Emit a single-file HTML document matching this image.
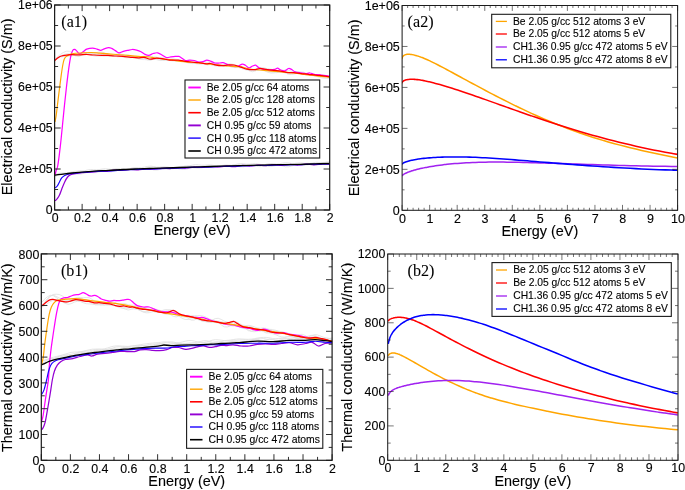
<!DOCTYPE html>
<html><head><meta charset="utf-8"><title>Conductivity plots</title>
<style>html,body{margin:0;padding:0;background:#fff;}body{width:685px;height:490px;overflow:hidden;font-family:"Liberation Sans",sans-serif;}svg{display:block;}text.sa{font-family:"Liberation Sans",sans-serif;stroke:#000;stroke-width:0.12px;}text.se{font-family:"Liberation Serif",serif;stroke:#000;stroke-width:0.08px;}</style>
</head><body>
<svg width="685" height="490" viewBox="0 0 685 490">
<defs>
<clipPath id="ca1"><rect x="54.6" y="5.0" width="275.09999999999997" height="205.0"/></clipPath>
<clipPath id="ca2"><rect x="402.1" y="5.5" width="275.5" height="204.8"/></clipPath>
<clipPath id="cb1"><rect x="41.3" y="253.9" width="290.8" height="206.4"/></clipPath>
<clipPath id="cb2"><rect x="387.7" y="254.0" width="290.3" height="206.3"/></clipPath>
<filter id="soft" x="-2%" y="-2%" width="104%" height="104%"><feGaussianBlur stdDeviation="0.3"/></filter>
</defs>
<rect x="0" y="0" width="685" height="490" fill="#ffffff"/>
<g filter="url(#soft)">
<polyline points="70.0,55.4 73.0,55.1 76.0,54.7 79.0,53.7 82.0,52.8 85.0,52.6 88.0,52.9 91.0,53.1 94.0,53.0 97.0,52.4 100.0,52.0 103.0,52.3 106.0,53.4 109.0,54.5 112.0,54.9 115.0,54.4 118.0,53.9 121.0,54.0 124.0,54.9 127.0,56.1 130.0,56.6 133.0,56.5 136.0,56.3 139.0,56.6 142.0,57.6 145.0,58.7 148.0,59.3 151.0,59.3 154.0,59.3 157.0,59.2 160.0,59.5 163.0,59.7 166.0,59.7 169.0,59.3 172.0,59.0 175.0,59.2 178.0,59.7 181.0,60.4 184.0,61.0 187.0,61.4 190.0,62.0 193.0,62.9 196.0,63.7 199.0,64.1 202.0,64.0 205.0,63.9 208.0,64.1 211.0,64.6 214.0,65.2 217.0,65.3 220.0,64.9 223.0,64.7 226.0,65.2 229.0,66.2 232.0,67.3 235.0,67.6 238.0,67.2 241.0,66.9 244.0,67.5 247.0,68.8 250.0,70.3 253.0,70.7 256.0,70.4 259.0,69.9 262.0,70.1 265.0,71.1 268.0,72.3 271.0,73.0 274.0,72.8 277.0,72.1 280.0,71.8 283.0,72.0 286.0,72.5 289.0,72.7 292.0,72.2 295.0,71.7 298.0,71.7 301.0,72.3 304.0,73.4 307.0,74.4 310.0,75.1 313.0,75.6 316.0,76.2 319.0,77.1 322.0,77.9 325.0,78.3 328.0,78.4 329.5,78.4" fill="none" stroke="#e0e0e0" stroke-width="0.85" stroke-linejoin="round" stroke-linecap="butt" opacity="1.0" clip-path="url(#ca1)"/>
<polyline points="54.5,59.7 57.5,56.8 60.5,54.3 63.5,52.4 66.5,51.2 69.5,51.3 72.5,52.9 75.5,55.1 78.5,56.1 81.5,55.2 84.5,53.8 87.5,53.1 90.5,53.6 93.5,54.5 96.5,55.2 99.5,55.7 102.5,56.1 105.5,56.1 108.5,55.7 111.5,55.6 114.5,56.1 117.5,56.8 120.5,56.7 123.5,55.7 126.5,54.8 129.5,55.2 132.5,56.7 135.5,58.1 138.5,58.3 141.5,57.0 144.5,56.0 147.5,56.4 150.5,57.2 153.5,56.9 156.5,57.1 159.5,58.4 162.5,59.4 165.5,60.0 168.5,60.0 171.5,59.8 174.5,60.0 177.5,60.4 180.5,60.6 183.5,60.6 186.5,61.0 189.5,62.2 192.5,63.3 195.5,63.3 198.5,62.5 201.5,62.0 204.5,62.1 207.5,62.3 210.5,62.1 213.5,63.1 216.5,64.3 219.5,65.0 222.5,65.3 225.5,64.5 228.5,63.8 231.5,64.0 234.5,64.7 237.5,65.7 240.5,66.1 243.5,67.1 246.5,69.1 249.5,70.8 252.5,71.7 255.5,70.7 258.5,68.7 261.5,67.7 264.5,68.0 267.5,68.9 270.5,69.8 273.5,70.8 276.5,71.5 279.5,71.4 282.5,70.5 285.5,69.9 288.5,70.4 291.5,71.4 294.5,72.3 297.5,72.5 300.5,72.1 303.5,72.1 306.5,73.3 309.5,74.8 312.5,75.6 315.5,75.5 318.5,75.0 321.5,74.8 324.5,75.0 327.5,75.8 329.5,76.7" fill="none" stroke="#e0e0e0" stroke-width="0.85" stroke-linejoin="round" stroke-linecap="butt" opacity="1.0" clip-path="url(#ca1)"/>
<polyline points="54.5,60.5 57.5,57.9 60.5,56.0 63.5,54.7 66.5,53.9 69.5,53.8 72.5,54.6 75.5,55.9 78.5,56.3 81.5,55.5 84.5,54.4 87.5,54.0 90.5,54.8 93.5,55.8 96.5,56.2 99.5,55.8 102.5,55.5 105.5,55.7 108.5,56.2 111.5,56.5 114.5,56.3 117.5,56.2 120.5,56.5 123.5,57.3 126.5,57.8 129.5,57.7 132.5,57.4 135.5,57.6 138.5,58.7 141.5,59.5 144.5,59.6 147.5,59.8 150.5,59.8 153.5,59.3 156.5,59.6 159.5,60.4 162.5,60.5 165.5,60.3 168.5,60.4 171.5,60.7 174.5,61.1 177.5,61.2 180.5,61.3 183.5,61.6 186.5,62.4 189.5,63.3 192.5,63.6 195.5,63.2 198.5,62.7 201.5,63.1 204.5,64.2 207.5,64.9 210.5,64.4 213.5,64.2 216.5,64.3 219.5,64.9 222.5,66.1 225.5,66.5 228.5,66.0 231.5,65.5 234.5,65.4 237.5,66.8 240.5,68.3 243.5,69.3 246.5,69.9 249.5,69.9 252.5,70.4 255.5,70.6 258.5,69.9 261.5,69.2 264.5,69.4 267.5,70.3 270.5,71.7 273.5,72.6 276.5,72.7 279.5,72.1 282.5,72.1 285.5,73.1 288.5,74.4 291.5,74.5 294.5,73.9 297.5,73.3 300.5,73.4 303.5,74.1 306.5,74.8 309.5,75.1 312.5,75.2 315.5,75.5 318.5,76.2 321.5,76.9 324.5,77.0 327.5,76.7 329.5,76.7" fill="none" stroke="#e0e0e0" stroke-width="0.85" stroke-linejoin="round" stroke-linecap="butt" opacity="1.0" clip-path="url(#ca1)"/>
<polyline points="54.5,60.6 57.5,58.3 60.5,57.0 63.5,56.6 66.5,56.4 69.5,56.2 72.5,55.7 75.5,55.3 78.5,54.9 81.5,54.4 84.5,53.9 87.5,53.8 90.5,54.0 93.5,54.2 96.5,54.4 99.5,54.6 102.5,54.7 105.5,54.9 108.5,55.0 111.5,55.4 114.5,55.8 117.5,56.1 120.5,56.3 123.5,56.4 126.5,56.7 129.5,57.1 132.5,57.5 135.5,58.0 138.5,58.6 141.5,58.7 144.5,58.8 147.5,59.7 150.5,60.2 153.5,59.2 156.5,58.2 159.5,57.8 162.5,57.8 165.5,58.4 168.5,59.2 171.5,59.8 174.5,60.2 177.5,60.4 180.5,60.7 183.5,60.9 186.5,60.8 189.5,60.8 192.5,60.9 195.5,61.2 198.5,61.7 201.5,62.8 204.5,63.8 207.5,64.5 210.5,64.6 213.5,65.5 216.5,66.1 219.5,66.1 222.5,66.0 225.5,65.4 228.5,65.0 231.5,65.0 234.5,65.3 237.5,66.4 240.5,67.4 243.5,68.4 246.5,69.4 249.5,69.5 252.5,69.5 255.5,69.1 258.5,68.3 261.5,68.0 264.5,68.3 267.5,68.7 270.5,69.1 273.5,69.7 276.5,70.4 279.5,71.1 282.5,71.9 285.5,72.7 288.5,73.3 291.5,73.1 294.5,73.0 297.5,73.1 300.5,73.3 303.5,73.6 306.5,74.1 309.5,74.7 312.5,75.4 315.5,76.0 318.5,76.3 321.5,76.4 324.5,76.4 327.5,76.3 329.5,76.3" fill="none" stroke="#e0e0e0" stroke-width="0.85" stroke-linejoin="round" stroke-linecap="butt" opacity="1.0" clip-path="url(#ca1)"/>
<polyline points="54.5,174.6 57.5,173.6 60.5,173.1 63.5,173.1 66.5,173.1 69.5,172.5 72.5,171.7 75.5,171.2 78.5,171.2 81.5,171.3 84.5,170.8 87.5,169.9 90.5,169.5 93.5,169.6 96.5,169.8 99.5,169.5 102.5,168.9 105.5,168.7 108.5,169.1 111.5,169.5 114.5,169.3 117.5,168.8 120.5,168.6 123.5,168.9 126.5,169.1 129.5,168.8 132.5,168.0 135.5,167.5 138.5,167.5 141.5,167.6 144.5,167.1 147.5,166.4 150.5,166.1 153.5,166.5 156.5,167.1 159.5,167.1 162.5,166.8 165.5,166.8 168.5,167.3 171.5,167.8 174.5,167.6 177.5,166.9 180.5,166.4 183.5,166.4 186.5,166.4 189.5,165.9 192.5,165.1 195.5,164.6 198.5,164.8 201.5,165.2 204.5,165.2 207.5,164.9 210.5,164.9 213.5,165.4 216.5,166.0 219.5,166.0 222.5,165.4 225.5,165.0 228.5,165.1 231.5,165.3 234.5,164.9 237.5,164.0 240.5,163.5 243.5,163.7 246.5,164.1 249.5,164.1 252.5,163.7 255.5,163.6 258.5,164.0 261.5,164.6 264.5,164.6 267.5,164.0 270.5,163.6 273.5,163.8 276.5,164.0 279.5,163.8 282.5,163.1 285.5,162.7 288.5,162.9 291.5,163.4 294.5,163.4 297.5,163.0 300.5,162.8 303.5,163.2 306.5,163.6 309.5,163.5 312.5,162.9 315.5,162.3 318.5,162.4 321.5,162.6 324.5,162.4 327.5,161.8 329.5,161.5" fill="none" stroke="#e0e0e0" stroke-width="0.85" stroke-linejoin="round" stroke-linecap="butt" opacity="1.0" clip-path="url(#ca1)"/>
<polyline points="54.5,177.0 57.5,175.4 60.5,174.5 63.5,174.6 66.5,174.9 69.5,174.8 72.5,174.3 75.5,174.1 78.5,174.2 81.5,173.9 84.5,173.1 87.5,172.4 90.5,172.4 93.5,172.7 96.5,172.6 99.5,171.8 102.5,171.1 105.5,171.3 108.5,171.8 111.5,171.8 114.5,170.8 117.5,169.8 120.5,169.5 123.5,169.8 126.5,170.0 129.5,169.8 132.5,169.7 135.5,169.9 138.5,169.9 141.5,169.4 144.5,168.5 147.5,168.2 150.5,168.9 153.5,169.9 156.5,170.1 159.5,169.5 162.5,168.9 165.5,168.9 168.5,169.1 171.5,169.0 174.5,168.6 177.5,168.6 180.5,169.2 183.5,169.5 186.5,169.1 189.5,168.2 192.5,167.8 195.5,168.1 198.5,168.3 201.5,167.9 204.5,167.3 207.5,167.1 210.5,167.6 213.5,167.8 216.5,167.3 219.5,166.5 222.5,166.2 225.5,166.4 228.5,166.5 231.5,166.1 234.5,165.8 237.5,166.1 240.5,166.8 243.5,166.8 246.5,166.0 249.5,165.2 252.5,165.2 255.5,166.0 258.5,166.6 261.5,166.6 264.5,166.3 267.5,166.4 270.5,166.5 273.5,166.1 276.5,165.4 279.5,165.2 282.5,165.9 285.5,166.8 288.5,166.8 291.5,166.0 294.5,165.1 297.5,165.1 300.5,165.5 303.5,165.5 306.5,165.0 309.5,164.6 312.5,164.8 315.5,165.0 318.5,164.7 321.5,164.1 324.5,163.9 327.5,164.2 329.5,164.3" fill="none" stroke="#e0e0e0" stroke-width="0.85" stroke-linejoin="round" stroke-linecap="butt" opacity="1.0" clip-path="url(#ca1)"/>
<polyline points="54.5,175.5 57.5,174.5 60.5,173.6 63.5,173.1 66.5,173.1 69.5,173.2 72.5,172.8 75.5,171.9 78.5,171.0 81.5,170.9 84.5,171.5 87.5,172.2 90.5,172.3 93.5,171.4 96.5,170.4 99.5,169.8 102.5,170.0 105.5,170.3 108.5,170.2 111.5,169.5 114.5,168.8 117.5,168.8 120.5,169.5 123.5,170.0 126.5,169.8 129.5,168.9 132.5,168.1 135.5,168.1 138.5,168.8 141.5,169.3 144.5,169.0 147.5,168.0 150.5,167.1 153.5,166.9 156.5,167.5 159.5,168.1 162.5,168.1 165.5,167.6 168.5,167.3 171.5,167.6 174.5,168.1 177.5,168.2 180.5,167.4 183.5,166.4 186.5,165.8 189.5,166.0 192.5,166.7 195.5,167.1 198.5,166.7 201.5,166.1 204.5,165.8 207.5,166.0 210.5,166.5 213.5,166.6 216.5,166.3 219.5,165.8 222.5,165.6 225.5,165.8 228.5,165.8 231.5,165.4 234.5,164.7 237.5,164.3 240.5,164.5 243.5,165.2 246.5,165.8 249.5,165.7 252.5,165.3 255.5,165.0 258.5,164.9 261.5,165.0 264.5,164.7 267.5,164.2 270.5,163.9 273.5,164.0 276.5,164.5 279.5,164.7 282.5,164.4 285.5,163.9 288.5,163.6 291.5,163.9 294.5,164.6 297.5,164.8 300.5,164.4 303.5,163.7 306.5,163.3 309.5,163.4 312.5,163.6 315.5,163.4 318.5,162.8 321.5,162.4 324.5,162.8 327.5,163.6 329.5,164.2" fill="none" stroke="#e0e0e0" stroke-width="0.85" stroke-linejoin="round" stroke-linecap="butt" opacity="1.0" clip-path="url(#ca1)"/>
<path d="M54.90,175.00 C55.12,174.25 55.73,172.00 56.20,170.50 C56.67,169.00 57.15,168.88 57.70,166.00 C58.25,163.12 58.95,157.53 59.50,153.20 C60.05,148.87 60.47,145.03 61.00,140.00 C61.53,134.97 62.10,129.00 62.70,123.00 C63.30,117.00 63.95,110.20 64.60,104.00 C65.25,97.80 65.90,91.77 66.60,85.80 C67.30,79.83 68.08,73.22 68.80,68.20 C69.52,63.18 70.23,58.68 70.90,55.70 C71.57,52.72 72.17,51.35 72.80,50.30 C73.43,49.25 74.10,49.35 74.70,49.40 C75.30,49.45 75.75,49.97 76.40,50.60 C77.05,51.23 77.87,52.72 78.60,53.20 C79.33,53.68 79.93,53.82 80.80,53.50 C81.67,53.18 82.82,52.03 83.80,51.30 C84.78,50.57 85.23,49.63 86.70,49.10 C88.17,48.57 90.88,48.10 92.60,48.10 C94.32,48.10 95.65,48.73 97.00,49.10 C98.35,49.47 99.48,50.35 100.70,50.30 C101.92,50.25 102.97,49.25 104.30,48.80 C105.63,48.35 107.47,47.67 108.70,47.60 C109.93,47.53 110.60,47.90 111.70,48.40 C112.80,48.90 114.08,49.87 115.30,50.60 C116.52,51.33 117.65,52.68 119.00,52.80 C120.35,52.92 121.93,51.72 123.40,51.30 C124.87,50.88 126.33,50.60 127.80,50.30 C129.27,50.00 130.73,49.53 132.20,49.50 C133.67,49.47 135.13,49.73 136.60,50.10 C138.07,50.47 139.70,51.05 141.00,51.70 C142.30,52.35 143.10,53.40 144.40,54.00 C145.70,54.60 147.33,55.38 148.80,55.30 C150.27,55.22 151.73,53.92 153.20,53.50 C154.67,53.08 156.13,52.55 157.60,52.80 C159.07,53.05 160.53,54.20 162.00,55.00 C163.47,55.80 164.93,57.28 166.40,57.60 C167.87,57.92 169.33,57.10 170.80,56.90 C172.27,56.70 173.85,56.48 175.20,56.40 C176.55,56.32 177.78,56.10 178.90,56.40 C180.02,56.70 180.80,57.52 181.90,58.20 C183.00,58.88 184.17,60.18 185.50,60.50 C186.83,60.82 188.43,60.10 189.90,60.10 C191.37,60.10 192.83,60.18 194.30,60.50 C195.77,60.82 197.23,61.82 198.70,62.00 C200.17,62.18 201.75,61.92 203.10,61.60 C204.45,61.28 205.57,60.18 206.80,60.10 C208.03,60.02 209.15,60.62 210.50,61.10 C211.85,61.58 213.43,62.68 214.90,63.00 C216.37,63.32 217.95,63.07 219.30,63.00 C220.65,62.93 221.78,62.42 223.00,62.60 C224.22,62.78 225.27,63.53 226.60,64.10 C227.93,64.67 229.53,65.60 231.00,66.00 C232.47,66.40 234.12,66.50 235.40,66.50 C236.68,66.50 237.55,66.40 238.70,66.00 C239.85,65.60 241.20,64.23 242.30,64.10 C243.40,63.97 244.18,64.57 245.30,65.20 C246.42,65.83 247.78,67.77 249.00,67.90 C250.22,68.03 251.50,66.45 252.60,66.00 C253.70,65.55 254.62,64.97 255.60,65.20 C256.58,65.43 257.28,66.70 258.50,67.40 C259.72,68.10 260.95,68.98 262.90,69.40 C264.85,69.82 268.25,69.90 270.20,69.90 C272.15,69.90 273.37,69.68 274.60,69.40 C275.83,69.12 276.62,68.12 277.60,68.20 C278.58,68.28 279.28,69.47 280.50,69.90 C281.72,70.33 283.55,71.03 284.90,70.80 C286.25,70.57 287.50,68.73 288.60,68.50 C289.70,68.27 290.40,68.83 291.50,69.40 C292.60,69.97 293.60,71.32 295.20,71.90 C296.80,72.48 299.38,72.62 301.10,72.90 C302.82,73.18 304.03,73.58 305.50,73.60 C306.97,73.62 308.43,72.88 309.90,73.00 C311.37,73.12 312.58,74.00 314.30,74.30 C316.02,74.60 317.67,74.47 320.20,74.80 C322.73,75.13 327.95,76.05 329.50,76.30" fill="none" stroke="#ff00ff" stroke-width="1.25" stroke-linejoin="round" opacity="1.0" clip-path="url(#ca1)"/>
<path d="M55.00,121.80 C55.20,120.72 55.73,118.57 56.20,115.30 C56.67,112.03 57.27,106.55 57.80,102.20 C58.33,97.85 58.85,93.55 59.40,89.20 C59.95,84.85 60.55,80.05 61.10,76.10 C61.65,72.15 62.17,68.35 62.70,65.50 C63.23,62.65 63.62,60.58 64.30,59.00 C64.98,57.42 65.88,56.75 66.80,56.00 C67.72,55.25 68.68,54.92 69.80,54.50 C70.92,54.08 71.42,53.77 73.50,53.50 C75.58,53.23 79.37,53.07 82.30,52.90 C85.23,52.73 88.17,52.45 91.10,52.50 C94.03,52.55 96.97,52.97 99.90,53.20 C102.83,53.43 104.78,53.60 108.70,53.90 C112.62,54.20 118.50,54.58 123.40,55.00 C128.30,55.42 133.67,56.07 138.10,56.40 C142.53,56.73 147.23,56.73 150.00,57.00 C152.77,57.27 151.47,57.55 154.70,58.00 C157.93,58.45 164.52,59.10 169.40,59.70 C174.28,60.30 179.12,61.05 184.00,61.60 C188.88,62.15 193.80,62.52 198.70,63.00 C203.60,63.48 208.50,64.00 213.40,64.50 C218.30,65.00 223.67,65.63 228.10,66.00 C232.53,66.37 236.40,66.20 240.00,66.70 C243.60,67.20 245.63,68.38 249.70,69.00 C253.77,69.62 259.52,69.95 264.40,70.40 C269.28,70.85 274.12,71.27 279.00,71.70 C283.88,72.13 288.80,72.45 293.70,73.00 C298.60,73.55 304.48,74.53 308.40,75.00 C312.32,75.47 313.68,75.42 317.20,75.80 C320.72,76.18 327.45,77.05 329.50,77.30" fill="none" stroke="#ffa500" stroke-width="1.2" stroke-linejoin="round" opacity="1.0" clip-path="url(#ca1)"/>
<path d="M54.50,200.80 C54.72,200.70 55.33,200.55 55.80,200.20 C56.27,199.85 56.68,199.55 57.30,198.70 C57.92,197.85 58.77,196.68 59.50,195.10 C60.23,193.52 60.83,191.40 61.70,189.20 C62.57,187.00 63.72,183.93 64.70,181.90 C65.68,179.87 66.62,178.18 67.60,177.00 C68.58,175.82 69.37,175.37 70.60,174.80 C71.83,174.23 73.10,173.97 75.00,173.60 C76.90,173.23 79.50,172.83 82.00,172.60 C84.50,172.37 87.33,172.42 90.00,172.20 C92.67,171.98 95.33,171.43 98.00,171.30 C100.67,171.17 103.33,171.58 106.00,171.40 C108.67,171.22 111.33,170.37 114.00,170.20 C116.67,170.03 119.33,170.52 122.00,170.40 C124.67,170.28 127.33,169.60 130.00,169.50 C132.67,169.40 135.33,169.90 138.00,169.80 C140.67,169.70 143.33,169.00 146.00,168.90 C148.67,168.80 151.33,169.30 154.00,169.20 C156.67,169.10 159.33,168.40 162.00,168.30 C164.67,168.20 167.33,168.72 170.00,168.60 C172.67,168.48 175.33,167.70 178.00,167.60 C180.67,167.50 183.33,168.07 186.00,168.00 C188.67,167.93 191.33,167.30 194.00,167.20 C196.67,167.10 199.33,167.50 202.00,167.40 C204.67,167.30 207.33,166.68 210.00,166.60 C212.67,166.52 215.33,166.97 218.00,166.90 C220.67,166.83 223.33,166.25 226.00,166.20 C228.67,166.15 231.33,166.72 234.00,166.60 C236.67,166.48 239.33,165.60 242.00,165.50 C244.67,165.40 247.33,166.05 250.00,166.00 C252.67,165.95 255.33,165.27 258.00,165.20 C260.67,165.13 263.33,165.67 266.00,165.60 C268.67,165.53 271.33,164.85 274.00,164.80 C276.67,164.75 279.33,165.35 282.00,165.30 C284.67,165.25 287.33,164.55 290.00,164.50 C292.67,164.45 295.33,165.05 298.00,165.00 C300.67,164.95 303.33,164.23 306.00,164.20 C308.67,164.17 311.33,164.83 314.00,164.80 C316.67,164.77 319.42,164.08 322.00,164.00 C324.58,163.92 328.25,164.25 329.50,164.30" fill="none" stroke="#9400d3" stroke-width="1.25" stroke-linejoin="round" opacity="1.0" clip-path="url(#ca1)"/>
<path d="M54.50,188.00 C54.72,187.90 55.33,187.73 55.80,187.40 C56.27,187.07 56.68,186.92 57.30,186.00 C57.92,185.08 58.77,183.25 59.50,181.90 C60.23,180.55 60.83,178.98 61.70,177.90 C62.57,176.82 63.47,176.05 64.70,175.40 C65.93,174.75 67.38,174.37 69.10,174.00 C70.82,173.63 72.35,173.48 75.00,173.20 C77.65,172.92 80.83,172.63 85.00,172.30 C89.17,171.97 95.00,171.48 100.00,171.20 C105.00,170.92 110.00,170.87 115.00,170.60 C120.00,170.33 125.00,169.82 130.00,169.60 C135.00,169.38 140.00,169.47 145.00,169.30 C150.00,169.13 155.00,168.78 160.00,168.60 C165.00,168.42 170.00,168.40 175.00,168.20 C180.00,168.00 185.00,167.57 190.00,167.40 C195.00,167.23 200.00,167.35 205.00,167.20 C210.00,167.05 215.00,166.65 220.00,166.50 C225.00,166.35 230.00,166.45 235.00,166.30 C240.00,166.15 245.00,165.73 250.00,165.60 C255.00,165.47 260.00,165.60 265.00,165.50 C270.00,165.40 275.00,165.12 280.00,165.00 C285.00,164.88 290.00,164.92 295.00,164.80 C300.00,164.68 304.25,164.43 310.00,164.30 C315.75,164.17 326.25,164.05 329.50,164.00" fill="none" stroke="#1a00ff" stroke-width="1.15" stroke-linejoin="round" opacity="1.0" clip-path="url(#ca1)"/>
<path d="M54.50,60.80 C54.83,60.50 55.78,59.60 56.50,59.00 C57.22,58.40 57.97,57.70 58.80,57.20 C59.63,56.70 60.52,56.32 61.50,56.00 C62.48,55.68 62.95,55.52 64.70,55.30 C66.45,55.08 69.62,54.77 72.00,54.70 C74.38,54.63 76.55,54.93 79.00,54.90 C81.45,54.87 84.20,54.48 86.70,54.50 C89.20,54.52 91.55,54.87 94.00,55.00 C96.45,55.13 99.07,55.23 101.40,55.30 C103.73,55.37 105.55,55.28 108.00,55.40 C110.45,55.52 113.60,55.83 116.10,56.00 C118.60,56.17 120.55,56.18 123.00,56.40 C125.45,56.62 128.28,57.05 130.80,57.30 C133.32,57.55 135.90,57.90 138.10,57.90 C140.30,57.90 141.97,57.08 144.00,57.30 C146.03,57.52 148.27,59.05 150.30,59.20 C152.33,59.35 154.25,58.30 156.20,58.20 C158.15,58.10 159.80,58.28 162.00,58.60 C164.20,58.92 166.70,59.85 169.40,60.10 C172.10,60.35 175.77,59.93 178.20,60.10 C180.63,60.27 181.80,60.78 184.00,61.10 C186.20,61.42 188.95,61.75 191.40,62.00 C193.85,62.25 196.25,62.30 198.70,62.60 C201.15,62.90 204.13,63.65 206.10,63.80 C208.07,63.95 208.78,63.27 210.50,63.50 C212.22,63.73 214.45,64.83 216.40,65.20 C218.35,65.57 220.25,65.73 222.20,65.70 C224.15,65.67 226.13,65.12 228.10,65.00 C230.07,64.88 231.87,64.63 234.00,65.00 C236.13,65.37 238.78,66.50 240.90,67.20 C243.02,67.90 244.50,68.78 246.70,69.20 C248.90,69.62 251.88,69.82 254.10,69.70 C256.32,69.58 257.80,68.52 260.00,68.50 C262.20,68.48 264.87,69.28 267.30,69.60 C269.73,69.92 272.15,70.10 274.60,70.40 C277.05,70.70 279.78,71.03 282.00,71.40 C284.22,71.77 285.95,72.40 287.90,72.60 C289.85,72.80 291.50,72.43 293.70,72.60 C295.90,72.77 298.65,73.32 301.10,73.60 C303.55,73.88 305.95,74.03 308.40,74.30 C310.85,74.57 313.35,74.95 315.80,75.20 C318.25,75.45 320.82,75.55 323.10,75.80 C325.38,76.05 328.43,76.55 329.50,76.70" fill="none" stroke="#ff0000" stroke-width="1.25" stroke-linejoin="round" opacity="1.0" clip-path="url(#ca1)"/>
<path d="M54.50,175.30 C55.08,175.20 56.30,174.95 58.00,174.70 C59.70,174.45 62.37,174.08 64.70,173.80 C67.03,173.52 69.55,173.25 72.00,173.00 C74.45,172.75 75.72,172.62 79.40,172.30 C83.08,171.98 89.22,171.42 94.10,171.10 C98.98,170.78 103.82,170.67 108.70,170.40 C113.58,170.13 118.50,169.75 123.40,169.50 C128.30,169.25 133.67,169.07 138.10,168.90 C142.53,168.73 146.35,168.62 150.00,168.50 C153.65,168.38 155.00,168.37 160.00,168.20 C165.00,168.03 173.33,167.73 180.00,167.50 C186.67,167.27 193.33,167.02 200.00,166.80 C206.67,166.58 213.33,166.40 220.00,166.20 C226.67,166.00 233.33,165.77 240.00,165.60 C246.67,165.43 253.33,165.35 260.00,165.20 C266.67,165.05 273.33,164.85 280.00,164.70 C286.67,164.55 294.17,164.43 300.00,164.30 C305.83,164.17 310.08,164.03 315.00,163.90 C319.92,163.77 327.08,163.57 329.50,163.50" fill="none" stroke="#000000" stroke-width="1.3" stroke-linejoin="round" opacity="1.0" clip-path="url(#ca1)"/>
<line x1="54.60" y1="210.00" x2="54.60" y2="203.90" stroke="#1a1a1a" stroke-width="0.9"/>
<line x1="54.60" y1="5.00" x2="54.60" y2="11.10" stroke="#1a1a1a" stroke-width="0.9"/>
<line x1="82.11" y1="210.00" x2="82.11" y2="203.90" stroke="#1a1a1a" stroke-width="0.9"/>
<line x1="82.11" y1="5.00" x2="82.11" y2="11.10" stroke="#1a1a1a" stroke-width="0.9"/>
<line x1="109.62" y1="210.00" x2="109.62" y2="203.90" stroke="#1a1a1a" stroke-width="0.9"/>
<line x1="109.62" y1="5.00" x2="109.62" y2="11.10" stroke="#1a1a1a" stroke-width="0.9"/>
<line x1="137.13" y1="210.00" x2="137.13" y2="203.90" stroke="#1a1a1a" stroke-width="0.9"/>
<line x1="137.13" y1="5.00" x2="137.13" y2="11.10" stroke="#1a1a1a" stroke-width="0.9"/>
<line x1="164.64" y1="210.00" x2="164.64" y2="203.90" stroke="#1a1a1a" stroke-width="0.9"/>
<line x1="164.64" y1="5.00" x2="164.64" y2="11.10" stroke="#1a1a1a" stroke-width="0.9"/>
<line x1="192.15" y1="210.00" x2="192.15" y2="203.90" stroke="#1a1a1a" stroke-width="0.9"/>
<line x1="192.15" y1="5.00" x2="192.15" y2="11.10" stroke="#1a1a1a" stroke-width="0.9"/>
<line x1="219.66" y1="210.00" x2="219.66" y2="203.90" stroke="#1a1a1a" stroke-width="0.9"/>
<line x1="219.66" y1="5.00" x2="219.66" y2="11.10" stroke="#1a1a1a" stroke-width="0.9"/>
<line x1="247.17" y1="210.00" x2="247.17" y2="203.90" stroke="#1a1a1a" stroke-width="0.9"/>
<line x1="247.17" y1="5.00" x2="247.17" y2="11.10" stroke="#1a1a1a" stroke-width="0.9"/>
<line x1="274.68" y1="210.00" x2="274.68" y2="203.90" stroke="#1a1a1a" stroke-width="0.9"/>
<line x1="274.68" y1="5.00" x2="274.68" y2="11.10" stroke="#1a1a1a" stroke-width="0.9"/>
<line x1="302.19" y1="210.00" x2="302.19" y2="203.90" stroke="#1a1a1a" stroke-width="0.9"/>
<line x1="302.19" y1="5.00" x2="302.19" y2="11.10" stroke="#1a1a1a" stroke-width="0.9"/>
<line x1="329.70" y1="210.00" x2="329.70" y2="203.90" stroke="#1a1a1a" stroke-width="0.9"/>
<line x1="329.70" y1="5.00" x2="329.70" y2="11.10" stroke="#1a1a1a" stroke-width="0.9"/>
<line x1="68.36" y1="210.00" x2="68.36" y2="206.50" stroke="#1a1a1a" stroke-width="0.9"/>
<line x1="68.36" y1="5.00" x2="68.36" y2="8.50" stroke="#1a1a1a" stroke-width="0.9"/>
<line x1="95.87" y1="210.00" x2="95.87" y2="206.50" stroke="#1a1a1a" stroke-width="0.9"/>
<line x1="95.87" y1="5.00" x2="95.87" y2="8.50" stroke="#1a1a1a" stroke-width="0.9"/>
<line x1="123.38" y1="210.00" x2="123.38" y2="206.50" stroke="#1a1a1a" stroke-width="0.9"/>
<line x1="123.38" y1="5.00" x2="123.38" y2="8.50" stroke="#1a1a1a" stroke-width="0.9"/>
<line x1="150.88" y1="210.00" x2="150.88" y2="206.50" stroke="#1a1a1a" stroke-width="0.9"/>
<line x1="150.88" y1="5.00" x2="150.88" y2="8.50" stroke="#1a1a1a" stroke-width="0.9"/>
<line x1="178.39" y1="210.00" x2="178.39" y2="206.50" stroke="#1a1a1a" stroke-width="0.9"/>
<line x1="178.39" y1="5.00" x2="178.39" y2="8.50" stroke="#1a1a1a" stroke-width="0.9"/>
<line x1="205.91" y1="210.00" x2="205.91" y2="206.50" stroke="#1a1a1a" stroke-width="0.9"/>
<line x1="205.91" y1="5.00" x2="205.91" y2="8.50" stroke="#1a1a1a" stroke-width="0.9"/>
<line x1="233.42" y1="210.00" x2="233.42" y2="206.50" stroke="#1a1a1a" stroke-width="0.9"/>
<line x1="233.42" y1="5.00" x2="233.42" y2="8.50" stroke="#1a1a1a" stroke-width="0.9"/>
<line x1="260.93" y1="210.00" x2="260.93" y2="206.50" stroke="#1a1a1a" stroke-width="0.9"/>
<line x1="260.93" y1="5.00" x2="260.93" y2="8.50" stroke="#1a1a1a" stroke-width="0.9"/>
<line x1="288.44" y1="210.00" x2="288.44" y2="206.50" stroke="#1a1a1a" stroke-width="0.9"/>
<line x1="288.44" y1="5.00" x2="288.44" y2="8.50" stroke="#1a1a1a" stroke-width="0.9"/>
<line x1="315.94" y1="210.00" x2="315.94" y2="206.50" stroke="#1a1a1a" stroke-width="0.9"/>
<line x1="315.94" y1="5.00" x2="315.94" y2="8.50" stroke="#1a1a1a" stroke-width="0.9"/>
<line x1="54.60" y1="210.00" x2="60.70" y2="210.00" stroke="#1a1a1a" stroke-width="0.9"/>
<line x1="329.70" y1="210.00" x2="323.60" y2="210.00" stroke="#1a1a1a" stroke-width="0.9"/>
<line x1="54.60" y1="169.00" x2="60.70" y2="169.00" stroke="#1a1a1a" stroke-width="0.9"/>
<line x1="329.70" y1="169.00" x2="323.60" y2="169.00" stroke="#1a1a1a" stroke-width="0.9"/>
<line x1="54.60" y1="128.00" x2="60.70" y2="128.00" stroke="#1a1a1a" stroke-width="0.9"/>
<line x1="329.70" y1="128.00" x2="323.60" y2="128.00" stroke="#1a1a1a" stroke-width="0.9"/>
<line x1="54.60" y1="87.00" x2="60.70" y2="87.00" stroke="#1a1a1a" stroke-width="0.9"/>
<line x1="329.70" y1="87.00" x2="323.60" y2="87.00" stroke="#1a1a1a" stroke-width="0.9"/>
<line x1="54.60" y1="46.00" x2="60.70" y2="46.00" stroke="#1a1a1a" stroke-width="0.9"/>
<line x1="329.70" y1="46.00" x2="323.60" y2="46.00" stroke="#1a1a1a" stroke-width="0.9"/>
<line x1="54.60" y1="5.00" x2="60.70" y2="5.00" stroke="#1a1a1a" stroke-width="0.9"/>
<line x1="329.70" y1="5.00" x2="323.60" y2="5.00" stroke="#1a1a1a" stroke-width="0.9"/>
<line x1="54.60" y1="189.50" x2="58.10" y2="189.50" stroke="#1a1a1a" stroke-width="0.9"/>
<line x1="329.70" y1="189.50" x2="326.20" y2="189.50" stroke="#1a1a1a" stroke-width="0.9"/>
<line x1="54.60" y1="148.50" x2="58.10" y2="148.50" stroke="#1a1a1a" stroke-width="0.9"/>
<line x1="329.70" y1="148.50" x2="326.20" y2="148.50" stroke="#1a1a1a" stroke-width="0.9"/>
<line x1="54.60" y1="107.50" x2="58.10" y2="107.50" stroke="#1a1a1a" stroke-width="0.9"/>
<line x1="329.70" y1="107.50" x2="326.20" y2="107.50" stroke="#1a1a1a" stroke-width="0.9"/>
<line x1="54.60" y1="66.50" x2="58.10" y2="66.50" stroke="#1a1a1a" stroke-width="0.9"/>
<line x1="329.70" y1="66.50" x2="326.20" y2="66.50" stroke="#1a1a1a" stroke-width="0.9"/>
<line x1="54.60" y1="25.50" x2="58.10" y2="25.50" stroke="#1a1a1a" stroke-width="0.9"/>
<line x1="329.70" y1="25.50" x2="326.20" y2="25.50" stroke="#1a1a1a" stroke-width="0.9"/>
<rect x="54.6" y="5.0" width="275.09999999999997" height="205.0" fill="none" stroke="#1a1a1a" stroke-width="1.2"/>
<text class="sa" transform="translate(55.10,222.40)" font-size="12.3" text-anchor="middle" fill="#000">0</text>
<text class="sa" transform="translate(82.61,222.40)" font-size="12.3" text-anchor="middle" fill="#000">0.2</text>
<text class="sa" transform="translate(110.12,222.40)" font-size="12.3" text-anchor="middle" fill="#000">0.4</text>
<text class="sa" transform="translate(137.63,222.40)" font-size="12.3" text-anchor="middle" fill="#000">0.6</text>
<text class="sa" transform="translate(165.14,222.40)" font-size="12.3" text-anchor="middle" fill="#000">0.8</text>
<text class="sa" transform="translate(192.65,222.40)" font-size="12.3" text-anchor="middle" fill="#000">1</text>
<text class="sa" transform="translate(220.16,222.40)" font-size="12.3" text-anchor="middle" fill="#000">1.2</text>
<text class="sa" transform="translate(247.67,222.40)" font-size="12.3" text-anchor="middle" fill="#000">1.4</text>
<text class="sa" transform="translate(275.18,222.40)" font-size="12.3" text-anchor="middle" fill="#000">1.6</text>
<text class="sa" transform="translate(302.69,222.40)" font-size="12.3" text-anchor="middle" fill="#000">1.8</text>
<text class="sa" transform="translate(330.20,222.40)" font-size="12.3" text-anchor="middle" fill="#000">2</text>
<text class="sa" transform="translate(52.60,214.13)" font-size="12.3" text-anchor="end" fill="#000">0</text>
<text class="sa" transform="translate(52.60,173.13)" font-size="12.3" text-anchor="end" fill="#000">2e+05</text>
<text class="sa" transform="translate(52.60,132.13)" font-size="12.3" text-anchor="end" fill="#000">4e+05</text>
<text class="sa" transform="translate(52.60,91.13)" font-size="12.3" text-anchor="end" fill="#000">6e+05</text>
<text class="sa" transform="translate(52.60,50.13)" font-size="12.3" text-anchor="end" fill="#000">8e+05</text>
<text class="sa" transform="translate(52.60,9.13)" font-size="12.3" text-anchor="end" fill="#000">1e+06</text>
<text class="sa" transform="translate(192.15,234.80)" font-size="14.4" text-anchor="middle" fill="#000">Energy (eV)</text>
<text class="sa" transform="translate(11.60,106.90) rotate(-90)" font-size="14.4" text-anchor="middle" fill="#000">Electrical conductivity (S/m)</text>
<text class="se" transform="translate(61.30,26.70)" font-size="16.0" text-anchor="start" fill="#000">(a1)</text>
<rect x="185.0" y="80.0" width="134.7" height="78.0" fill="#ffffff" stroke="#1a1a1a" stroke-width="1.1"/>
<line x1="188.30" y1="87.50" x2="200.80" y2="87.50" stroke="#ff00ff" stroke-width="1.9"/>
<text class="sa" transform="translate(206.70,90.90)" font-size="10.3" text-anchor="start" fill="#000">Be 2.05 g/cc 64 atoms</text>
<line x1="188.30" y1="100.00" x2="200.80" y2="100.00" stroke="#ffa500" stroke-width="1.4"/>
<text class="sa" transform="translate(206.70,103.40)" font-size="10.3" text-anchor="start" fill="#000">Be 2.05 g/cc 128 atoms</text>
<line x1="188.30" y1="112.70" x2="200.80" y2="112.70" stroke="#ff0000" stroke-width="1.6"/>
<text class="sa" transform="translate(206.70,116.10)" font-size="10.3" text-anchor="start" fill="#000">Be 2.05 g/cc 512 atoms</text>
<line x1="188.30" y1="125.40" x2="200.80" y2="125.40" stroke="#9400d3" stroke-width="1.9"/>
<text class="sa" transform="translate(206.70,128.80)" font-size="10.3" text-anchor="start" fill="#000">CH 0.95 g/cc 59 atoms</text>
<line x1="188.30" y1="138.10" x2="200.80" y2="138.10" stroke="#1a00ff" stroke-width="1.4"/>
<text class="sa" transform="translate(206.70,141.50)" font-size="10.3" text-anchor="start" fill="#000">CH 0.95 g/cc 118 atoms</text>
<line x1="188.30" y1="151.00" x2="200.80" y2="151.00" stroke="#000000" stroke-width="1.6"/>
<text class="sa" transform="translate(206.70,154.40)" font-size="10.3" text-anchor="start" fill="#000">CH 0.95 g/cc 472 atoms</text>
<path d="M402.00,59.27 C402.01,59.16 402.01,58.81 402.03,58.59 C402.06,58.38 402.09,58.17 402.14,57.97 C402.19,57.76 402.24,57.57 402.31,57.38 C402.38,57.20 402.46,57.02 402.56,56.85 C402.65,56.67 402.75,56.51 402.87,56.36 C402.99,56.20 403.11,56.05 403.25,55.92 C403.39,55.78 403.54,55.65 403.70,55.53 C403.87,55.40 404.04,55.29 404.23,55.19 C404.41,55.08 404.61,54.99 404.82,54.90 C405.03,54.81 405.25,54.73 405.48,54.66 C405.71,54.60 405.95,54.53 406.21,54.48 C406.46,54.43 406.73,54.39 407.01,54.36 C407.29,54.33 407.58,54.30 407.88,54.29 C408.18,54.28 408.49,54.27 408.82,54.28 C409.14,54.28 409.48,54.30 409.83,54.32 C410.17,54.35 410.53,54.39 410.90,54.43 C411.27,54.48 411.66,54.53 412.05,54.60 C412.45,54.66 412.85,54.74 413.27,54.83 C413.69,54.91 414.12,55.01 414.56,55.12 C415.00,55.23 415.45,55.34 415.91,55.47 C416.38,55.60 416.85,55.74 417.34,55.89 C417.83,56.04 418.32,56.21 418.83,56.38 C419.34,56.55 419.87,56.74 420.40,56.93 C420.93,57.13 421.48,57.33 422.03,57.55 C422.59,57.77 423.16,58.00 423.74,58.24 C424.32,58.48 424.91,58.73 425.51,58.99 C426.11,59.25 426.73,59.53 427.36,59.81 C427.98,60.09 428.62,60.39 429.27,60.69 C429.92,60.99 430.58,61.31 431.25,61.63 C431.92,61.95 432.61,62.29 433.30,62.63 C434.00,62.97 434.71,63.32 435.42,63.68 C436.14,64.04 436.87,64.41 437.62,64.79 C438.36,65.17 439.11,65.56 439.88,65.96 C440.64,66.36 441.42,66.76 442.21,67.17 C443.00,67.59 443.80,68.01 444.61,68.44 C445.42,68.87 446.24,69.31 447.08,69.76 C447.91,70.20 448.76,70.66 449.62,71.12 C450.47,71.58 451.34,72.05 452.22,72.53 C453.10,73.00 454.00,73.49 454.90,73.98 C455.81,74.47 456.72,74.96 457.65,75.47 C458.58,75.97 459.52,76.48 460.47,77.00 C461.42,77.52 462.38,78.04 463.35,78.57 C464.33,79.10 465.31,79.64 466.31,80.18 C467.31,80.72 468.32,81.27 469.34,81.82 C470.36,82.37 471.39,82.93 472.43,83.49 C473.47,84.06 474.53,84.63 475.60,85.20 C476.66,85.77 477.74,86.35 478.83,86.94 C479.92,87.52 481.02,88.11 482.14,88.70 C483.25,89.29 484.37,89.89 485.51,90.49 C486.65,91.09 487.79,91.70 488.95,92.31 C490.11,92.91 491.28,93.53 492.47,94.14 C493.65,94.76 494.84,95.38 496.05,96.00 C497.25,96.63 498.47,97.25 499.70,97.88 C500.93,98.51 502.17,99.14 503.42,99.78 C504.67,100.41 505.94,101.05 507.21,101.69 C508.49,102.33 509.77,102.97 511.07,103.62 C512.37,104.26 513.68,104.90 515.00,105.55 C516.33,106.20 517.66,106.84 519.00,107.49 C520.35,108.14 521.70,108.79 523.07,109.44 C524.44,110.09 525.82,110.74 527.21,111.38 C528.60,112.03 530.01,112.68 531.42,113.33 C532.83,113.98 534.26,114.62 535.70,115.27 C537.14,115.92 538.58,116.56 540.05,117.20 C541.51,117.85 542.98,118.49 544.46,119.13 C545.95,119.77 547.44,120.40 548.95,121.04 C550.46,121.67 551.98,122.31 553.51,122.93 C555.04,123.56 556.58,124.19 558.13,124.81 C559.69,125.43 561.25,126.05 562.83,126.66 C564.40,127.28 565.99,127.89 567.59,128.50 C569.19,129.10 570.80,129.70 572.43,130.30 C574.05,130.90 575.68,131.49 577.33,132.07 C578.98,132.66 580.64,133.24 582.30,133.81 C583.97,134.39 585.66,134.96 587.35,135.52 C589.04,136.08 590.74,136.64 592.46,137.19 C594.18,137.73 595.90,138.28 597.64,138.81 C599.38,139.35 601.13,139.87 602.89,140.39 C604.66,140.91 606.43,141.42 608.22,141.93 C610.00,142.44 611.80,142.93 613.61,143.43 C615.42,143.92 617.24,144.40 619.07,144.89 C620.90,145.37 622.74,145.84 624.60,146.31 C626.45,146.78 628.32,147.24 630.20,147.70 C632.08,148.16 633.97,148.61 635.87,149.06 C637.77,149.51 639.68,149.96 641.61,150.40 C643.53,150.84 645.47,151.28 647.41,151.72 C649.36,152.15 651.32,152.58 653.29,153.01 C655.26,153.44 657.25,153.86 659.24,154.29 C661.23,154.71 663.24,155.13 665.26,155.55 C667.27,155.97 669.30,156.39 671.34,156.80 C673.38,157.22 676.47,157.84 677.50,158.04" fill="none" stroke="#ffa500" stroke-width="1.5" stroke-linejoin="round" opacity="1.0" clip-path="url(#ca2)"/>
<path d="M402.00,83.29 C402.01,83.22 402.01,83.01 402.03,82.87 C402.06,82.74 402.09,82.61 402.14,82.48 C402.19,82.35 402.24,82.22 402.31,82.09 C402.38,81.97 402.46,81.85 402.56,81.73 C402.65,81.61 402.75,81.50 402.87,81.39 C402.99,81.28 403.11,81.17 403.25,81.07 C403.39,80.96 403.54,80.86 403.70,80.77 C403.87,80.67 404.04,80.58 404.23,80.49 C404.41,80.40 404.61,80.32 404.82,80.24 C405.03,80.16 405.25,80.09 405.48,80.02 C405.71,79.95 405.95,79.88 406.21,79.82 C406.46,79.76 406.73,79.70 407.01,79.65 C407.29,79.60 407.58,79.55 407.88,79.51 C408.18,79.47 408.49,79.44 408.82,79.41 C409.14,79.38 409.48,79.35 409.83,79.33 C410.17,79.31 410.53,79.30 410.90,79.29 C411.27,79.28 411.66,79.28 412.05,79.28 C412.45,79.29 412.85,79.30 413.27,79.31 C413.69,79.33 414.12,79.35 414.56,79.38 C415.00,79.41 415.45,79.44 415.91,79.49 C416.38,79.53 416.85,79.58 417.34,79.63 C417.83,79.69 418.32,79.75 418.83,79.82 C419.34,79.89 419.87,79.96 420.40,80.05 C420.93,80.13 421.48,80.22 422.03,80.32 C422.59,80.42 423.16,80.52 423.74,80.63 C424.32,80.75 424.91,80.86 425.51,80.99 C426.11,81.12 426.73,81.25 427.36,81.39 C427.98,81.53 428.62,81.67 429.27,81.83 C429.92,81.98 430.58,82.14 431.25,82.31 C431.92,82.47 432.61,82.65 433.30,82.83 C434.00,83.01 434.71,83.19 435.42,83.38 C436.14,83.58 436.87,83.78 437.62,83.98 C438.36,84.19 439.11,84.40 439.88,84.62 C440.64,84.84 441.42,85.06 442.21,85.29 C443.00,85.53 443.80,85.76 444.61,86.01 C445.42,86.25 446.24,86.50 447.08,86.76 C447.91,87.01 448.76,87.27 449.62,87.54 C450.47,87.81 451.34,88.08 452.22,88.36 C453.10,88.64 454.00,88.93 454.90,89.22 C455.81,89.51 456.72,89.81 457.65,90.11 C458.58,90.42 459.52,90.73 460.47,91.04 C461.42,91.36 462.38,91.68 463.35,92.00 C464.33,92.33 465.31,92.66 466.31,93.00 C467.31,93.34 468.32,93.68 469.34,94.03 C470.36,94.37 471.39,94.73 472.43,95.09 C473.47,95.45 474.53,95.81 475.60,96.18 C476.66,96.55 477.74,96.92 478.83,97.30 C479.92,97.68 481.02,98.07 482.14,98.46 C483.25,98.85 484.37,99.24 485.51,99.64 C486.65,100.04 487.79,100.45 488.95,100.86 C490.11,101.27 491.28,101.69 492.47,102.11 C493.65,102.53 494.84,102.95 496.05,103.38 C497.25,103.81 498.47,104.24 499.70,104.68 C500.93,105.12 502.17,105.56 503.42,106.01 C504.67,106.46 505.94,106.91 507.21,107.36 C508.49,107.82 509.77,108.27 511.07,108.74 C512.37,109.20 513.68,109.66 515.00,110.13 C516.33,110.60 517.66,111.07 519.00,111.54 C520.35,112.02 521.70,112.49 523.07,112.97 C524.44,113.45 525.82,113.93 527.21,114.42 C528.60,114.90 530.01,115.39 531.42,115.87 C532.83,116.36 534.26,116.85 535.70,117.34 C537.14,117.83 538.58,118.33 540.05,118.82 C541.51,119.31 542.98,119.81 544.46,120.30 C545.95,120.80 547.44,121.30 548.95,121.79 C550.46,122.29 551.98,122.79 553.51,123.29 C555.04,123.79 556.58,124.28 558.13,124.78 C559.69,125.28 561.25,125.78 562.83,126.28 C564.40,126.78 565.99,127.27 567.59,127.77 C569.19,128.27 570.80,128.77 572.43,129.26 C574.05,129.76 575.68,130.25 577.33,130.75 C578.98,131.24 580.64,131.73 582.30,132.22 C583.97,132.71 585.66,133.20 587.35,133.69 C589.04,134.18 590.74,134.66 592.46,135.15 C594.18,135.63 595.90,136.11 597.64,136.59 C599.38,137.07 601.13,137.54 602.89,138.02 C604.66,138.49 606.43,138.96 608.22,139.43 C610.00,139.89 611.80,140.36 613.61,140.82 C615.42,141.28 617.24,141.74 619.07,142.19 C620.90,142.65 622.74,143.10 624.60,143.54 C626.45,143.99 628.32,144.43 630.20,144.87 C632.08,145.30 633.97,145.74 635.87,146.17 C637.77,146.60 639.68,147.02 641.61,147.44 C643.53,147.86 645.47,148.27 647.41,148.68 C649.36,149.09 651.32,149.49 653.29,149.89 C655.26,150.29 657.25,150.68 659.24,151.07 C661.23,151.45 663.24,151.83 665.26,152.21 C667.27,152.58 669.30,152.95 671.34,153.31 C673.38,153.67 676.47,154.20 677.50,154.38" fill="none" stroke="#ff0000" stroke-width="1.55" stroke-linejoin="round" opacity="1.0" clip-path="url(#ca2)"/>
<path d="M402.00,176.25 C402.01,176.21 402.01,176.09 402.03,176.01 C402.06,175.92 402.09,175.84 402.14,175.75 C402.19,175.66 402.24,175.57 402.31,175.48 C402.38,175.39 402.46,175.29 402.56,175.20 C402.65,175.10 402.75,175.00 402.87,174.90 C402.99,174.80 403.11,174.70 403.25,174.60 C403.39,174.50 403.54,174.39 403.70,174.29 C403.87,174.18 404.04,174.08 404.23,173.97 C404.41,173.86 404.61,173.75 404.82,173.64 C405.03,173.53 405.25,173.41 405.48,173.30 C405.71,173.19 405.95,173.07 406.21,172.96 C406.46,172.84 406.73,172.73 407.01,172.61 C407.29,172.49 407.58,172.37 407.88,172.25 C408.18,172.14 408.49,172.02 408.82,171.90 C409.14,171.78 409.48,171.65 409.83,171.53 C410.17,171.41 410.53,171.29 410.90,171.17 C411.27,171.05 411.66,170.92 412.05,170.80 C412.45,170.68 412.85,170.55 413.27,170.43 C413.69,170.31 414.12,170.18 414.56,170.06 C415.00,169.94 415.45,169.81 415.91,169.69 C416.38,169.57 416.85,169.44 417.34,169.32 C417.83,169.20 418.32,169.08 418.83,168.95 C419.34,168.83 419.87,168.71 420.40,168.59 C420.93,168.47 421.48,168.34 422.03,168.22 C422.59,168.10 423.16,167.98 423.74,167.86 C424.32,167.74 424.91,167.63 425.51,167.51 C426.11,167.39 426.73,167.27 427.36,167.16 C427.98,167.04 428.62,166.93 429.27,166.81 C429.92,166.70 430.58,166.59 431.25,166.47 C431.92,166.36 432.61,166.25 433.30,166.14 C434.00,166.03 434.71,165.92 435.42,165.82 C436.14,165.71 436.87,165.61 437.62,165.50 C438.36,165.40 439.11,165.30 439.88,165.20 C440.64,165.10 441.42,165.00 442.21,164.90 C443.00,164.80 443.80,164.71 444.61,164.62 C445.42,164.52 446.24,164.43 447.08,164.34 C447.91,164.25 448.76,164.17 449.62,164.08 C450.47,164.00 451.34,163.91 452.22,163.83 C453.10,163.75 454.00,163.67 454.90,163.60 C455.81,163.52 456.72,163.45 457.65,163.38 C458.58,163.31 459.52,163.24 460.47,163.17 C461.42,163.10 462.38,163.04 463.35,162.98 C464.33,162.92 465.31,162.86 466.31,162.81 C467.31,162.75 468.32,162.70 469.34,162.65 C470.36,162.60 471.39,162.56 472.43,162.51 C473.47,162.47 474.53,162.43 475.60,162.39 C476.66,162.36 477.74,162.32 478.83,162.29 C479.92,162.26 481.02,162.24 482.14,162.21 C483.25,162.19 484.37,162.17 485.51,162.15 C486.65,162.13 487.79,162.12 488.95,162.11 C490.11,162.10 491.28,162.09 492.47,162.08 C493.65,162.08 494.84,162.08 496.05,162.08 C497.25,162.08 498.47,162.08 499.70,162.08 C500.93,162.09 502.17,162.10 503.42,162.11 C504.67,162.12 505.94,162.13 507.21,162.14 C508.49,162.16 509.77,162.18 511.07,162.20 C512.37,162.22 513.68,162.24 515.00,162.26 C516.33,162.28 517.66,162.31 519.00,162.34 C520.35,162.36 521.70,162.39 523.07,162.43 C524.44,162.46 525.82,162.49 527.21,162.52 C528.60,162.56 530.01,162.60 531.42,162.63 C532.83,162.67 534.26,162.71 535.70,162.75 C537.14,162.79 538.58,162.83 540.05,162.88 C541.51,162.92 542.98,162.96 544.46,163.01 C545.95,163.06 547.44,163.10 548.95,163.15 C550.46,163.20 551.98,163.25 553.51,163.30 C555.04,163.35 556.58,163.40 558.13,163.45 C559.69,163.50 561.25,163.55 562.83,163.60 C564.40,163.66 565.99,163.71 567.59,163.76 C569.19,163.82 570.80,163.87 572.43,163.92 C574.05,163.98 575.68,164.03 577.33,164.09 C578.98,164.14 580.64,164.20 582.30,164.25 C583.97,164.31 585.66,164.36 587.35,164.42 C589.04,164.47 590.74,164.53 592.46,164.58 C594.18,164.64 595.90,164.69 597.64,164.75 C599.38,164.80 601.13,164.86 602.89,164.91 C604.66,164.96 606.43,165.02 608.22,165.07 C610.00,165.12 611.80,165.17 613.61,165.22 C615.42,165.27 617.24,165.33 619.07,165.38 C620.90,165.42 622.74,165.47 624.60,165.52 C626.45,165.57 628.32,165.62 630.20,165.66 C632.08,165.71 633.97,165.75 635.87,165.80 C637.77,165.84 639.68,165.88 641.61,165.92 C643.53,165.96 645.47,166.00 647.41,166.04 C649.36,166.08 651.32,166.11 653.29,166.15 C655.26,166.18 657.25,166.22 659.24,166.25 C661.23,166.28 663.24,166.31 665.26,166.34 C667.27,166.36 669.30,166.39 671.34,166.41 C673.38,166.44 676.47,166.47 677.50,166.48" fill="none" stroke="#a020f0" stroke-width="1.5" stroke-linejoin="round" opacity="1.0" clip-path="url(#ca2)"/>
<path d="M402.00,164.67 C402.01,164.62 402.01,164.49 402.03,164.40 C402.06,164.32 402.09,164.23 402.14,164.14 C402.19,164.05 402.24,163.96 402.31,163.87 C402.38,163.78 402.46,163.69 402.56,163.60 C402.65,163.51 402.75,163.42 402.87,163.33 C402.99,163.24 403.11,163.15 403.25,163.06 C403.39,162.97 403.54,162.88 403.70,162.78 C403.87,162.69 404.04,162.60 404.23,162.51 C404.41,162.42 404.61,162.33 404.82,162.24 C405.03,162.15 405.25,162.06 405.48,161.97 C405.71,161.88 405.95,161.79 406.21,161.70 C406.46,161.61 406.73,161.52 407.01,161.43 C407.29,161.34 407.58,161.25 407.88,161.16 C408.18,161.08 408.49,160.99 408.82,160.90 C409.14,160.82 409.48,160.73 409.83,160.64 C410.17,160.56 410.53,160.47 410.90,160.39 C411.27,160.31 411.66,160.22 412.05,160.14 C412.45,160.06 412.85,159.98 413.27,159.90 C413.69,159.82 414.12,159.74 414.56,159.66 C415.00,159.58 415.45,159.50 415.91,159.43 C416.38,159.35 416.85,159.27 417.34,159.20 C417.83,159.13 418.32,159.05 418.83,158.98 C419.34,158.91 419.87,158.84 420.40,158.77 C420.93,158.70 421.48,158.64 422.03,158.57 C422.59,158.51 423.16,158.44 423.74,158.38 C424.32,158.32 424.91,158.26 425.51,158.20 C426.11,158.14 426.73,158.08 427.36,158.02 C427.98,157.97 428.62,157.91 429.27,157.86 C429.92,157.81 430.58,157.76 431.25,157.71 C431.92,157.66 432.61,157.61 433.30,157.57 C434.00,157.53 434.71,157.48 435.42,157.44 C436.14,157.40 436.87,157.36 437.62,157.33 C438.36,157.29 439.11,157.26 439.88,157.23 C440.64,157.20 441.42,157.17 442.21,157.14 C443.00,157.11 443.80,157.09 444.61,157.07 C445.42,157.04 446.24,157.02 447.08,157.01 C447.91,156.99 448.76,156.97 449.62,156.96 C450.47,156.95 451.34,156.94 452.22,156.94 C453.10,156.93 454.00,156.93 454.90,156.92 C455.81,156.92 456.72,156.93 457.65,156.93 C458.58,156.93 459.52,156.94 460.47,156.95 C461.42,156.96 462.38,156.98 463.35,156.99 C464.33,157.01 465.31,157.03 466.31,157.05 C467.31,157.08 468.32,157.10 469.34,157.13 C470.36,157.16 471.39,157.19 472.43,157.23 C473.47,157.27 474.53,157.31 475.60,157.35 C476.66,157.39 477.74,157.44 478.83,157.49 C479.92,157.54 481.02,157.59 482.14,157.65 C483.25,157.70 484.37,157.76 485.51,157.83 C486.65,157.89 487.79,157.96 488.95,158.03 C490.11,158.09 491.28,158.17 492.47,158.24 C493.65,158.32 494.84,158.40 496.05,158.48 C497.25,158.56 498.47,158.64 499.70,158.73 C500.93,158.81 502.17,158.90 503.42,158.99 C504.67,159.08 505.94,159.18 507.21,159.27 C508.49,159.37 509.77,159.47 511.07,159.57 C512.37,159.66 513.68,159.77 515.00,159.87 C516.33,159.97 517.66,160.08 519.00,160.19 C520.35,160.29 521.70,160.40 523.07,160.51 C524.44,160.62 525.82,160.74 527.21,160.85 C528.60,160.96 530.01,161.08 531.42,161.19 C532.83,161.31 534.26,161.43 535.70,161.55 C537.14,161.66 538.58,161.78 540.05,161.90 C541.51,162.02 542.98,162.15 544.46,162.27 C545.95,162.39 547.44,162.51 548.95,162.64 C550.46,162.76 551.98,162.88 553.51,163.01 C555.04,163.13 556.58,163.26 558.13,163.38 C559.69,163.51 561.25,163.63 562.83,163.76 C564.40,163.88 565.99,164.01 567.59,164.13 C569.19,164.26 570.80,164.38 572.43,164.51 C574.05,164.63 575.68,164.76 577.33,164.88 C578.98,165.01 580.64,165.13 582.30,165.25 C583.97,165.38 585.66,165.50 587.35,165.62 C589.04,165.74 590.74,165.87 592.46,165.99 C594.18,166.11 595.90,166.23 597.64,166.35 C599.38,166.46 601.13,166.58 602.89,166.70 C604.66,166.81 606.43,166.93 608.22,167.04 C610.00,167.16 611.80,167.27 613.61,167.38 C615.42,167.49 617.24,167.60 619.07,167.71 C620.90,167.81 622.74,167.92 624.60,168.02 C626.45,168.13 628.32,168.23 630.20,168.33 C632.08,168.43 633.97,168.53 635.87,168.62 C637.77,168.72 639.68,168.81 641.61,168.90 C643.53,168.99 645.47,169.08 647.41,169.17 C649.36,169.26 651.32,169.34 653.29,169.42 C655.26,169.50 657.25,169.58 659.24,169.66 C661.23,169.73 663.24,169.80 665.26,169.87 C667.27,169.94 669.30,170.01 671.34,170.07 C673.38,170.14 676.47,170.22 677.50,170.25" fill="none" stroke="#0000ff" stroke-width="1.55" stroke-linejoin="round" opacity="1.0" clip-path="url(#ca2)"/>
<line x1="402.10" y1="210.30" x2="402.10" y2="204.90" stroke="#1a1a1a" stroke-width="0.6"/>
<line x1="402.10" y1="5.50" x2="402.10" y2="10.90" stroke="#1a1a1a" stroke-width="0.6"/>
<line x1="429.65" y1="210.30" x2="429.65" y2="204.90" stroke="#1a1a1a" stroke-width="0.6"/>
<line x1="429.65" y1="5.50" x2="429.65" y2="10.90" stroke="#1a1a1a" stroke-width="0.6"/>
<line x1="457.20" y1="210.30" x2="457.20" y2="204.90" stroke="#1a1a1a" stroke-width="0.6"/>
<line x1="457.20" y1="5.50" x2="457.20" y2="10.90" stroke="#1a1a1a" stroke-width="0.6"/>
<line x1="484.75" y1="210.30" x2="484.75" y2="204.90" stroke="#1a1a1a" stroke-width="0.6"/>
<line x1="484.75" y1="5.50" x2="484.75" y2="10.90" stroke="#1a1a1a" stroke-width="0.6"/>
<line x1="512.30" y1="210.30" x2="512.30" y2="204.90" stroke="#1a1a1a" stroke-width="0.6"/>
<line x1="512.30" y1="5.50" x2="512.30" y2="10.90" stroke="#1a1a1a" stroke-width="0.6"/>
<line x1="539.85" y1="210.30" x2="539.85" y2="204.90" stroke="#1a1a1a" stroke-width="0.6"/>
<line x1="539.85" y1="5.50" x2="539.85" y2="10.90" stroke="#1a1a1a" stroke-width="0.6"/>
<line x1="567.40" y1="210.30" x2="567.40" y2="204.90" stroke="#1a1a1a" stroke-width="0.6"/>
<line x1="567.40" y1="5.50" x2="567.40" y2="10.90" stroke="#1a1a1a" stroke-width="0.6"/>
<line x1="594.95" y1="210.30" x2="594.95" y2="204.90" stroke="#1a1a1a" stroke-width="0.6"/>
<line x1="594.95" y1="5.50" x2="594.95" y2="10.90" stroke="#1a1a1a" stroke-width="0.6"/>
<line x1="622.50" y1="210.30" x2="622.50" y2="204.90" stroke="#1a1a1a" stroke-width="0.6"/>
<line x1="622.50" y1="5.50" x2="622.50" y2="10.90" stroke="#1a1a1a" stroke-width="0.6"/>
<line x1="650.05" y1="210.30" x2="650.05" y2="204.90" stroke="#1a1a1a" stroke-width="0.6"/>
<line x1="650.05" y1="5.50" x2="650.05" y2="10.90" stroke="#1a1a1a" stroke-width="0.6"/>
<line x1="677.60" y1="210.30" x2="677.60" y2="204.90" stroke="#1a1a1a" stroke-width="0.6"/>
<line x1="677.60" y1="5.50" x2="677.60" y2="10.90" stroke="#1a1a1a" stroke-width="0.6"/>
<line x1="407.61" y1="210.30" x2="407.61" y2="207.80" stroke="#1a1a1a" stroke-width="0.6"/>
<line x1="407.61" y1="5.50" x2="407.61" y2="8.00" stroke="#1a1a1a" stroke-width="0.6"/>
<line x1="413.12" y1="210.30" x2="413.12" y2="207.80" stroke="#1a1a1a" stroke-width="0.6"/>
<line x1="413.12" y1="5.50" x2="413.12" y2="8.00" stroke="#1a1a1a" stroke-width="0.6"/>
<line x1="418.63" y1="210.30" x2="418.63" y2="207.80" stroke="#1a1a1a" stroke-width="0.6"/>
<line x1="418.63" y1="5.50" x2="418.63" y2="8.00" stroke="#1a1a1a" stroke-width="0.6"/>
<line x1="424.14" y1="210.30" x2="424.14" y2="207.80" stroke="#1a1a1a" stroke-width="0.6"/>
<line x1="424.14" y1="5.50" x2="424.14" y2="8.00" stroke="#1a1a1a" stroke-width="0.6"/>
<line x1="435.16" y1="210.30" x2="435.16" y2="207.80" stroke="#1a1a1a" stroke-width="0.6"/>
<line x1="435.16" y1="5.50" x2="435.16" y2="8.00" stroke="#1a1a1a" stroke-width="0.6"/>
<line x1="440.67" y1="210.30" x2="440.67" y2="207.80" stroke="#1a1a1a" stroke-width="0.6"/>
<line x1="440.67" y1="5.50" x2="440.67" y2="8.00" stroke="#1a1a1a" stroke-width="0.6"/>
<line x1="446.18" y1="210.30" x2="446.18" y2="207.80" stroke="#1a1a1a" stroke-width="0.6"/>
<line x1="446.18" y1="5.50" x2="446.18" y2="8.00" stroke="#1a1a1a" stroke-width="0.6"/>
<line x1="451.69" y1="210.30" x2="451.69" y2="207.80" stroke="#1a1a1a" stroke-width="0.6"/>
<line x1="451.69" y1="5.50" x2="451.69" y2="8.00" stroke="#1a1a1a" stroke-width="0.6"/>
<line x1="462.71" y1="210.30" x2="462.71" y2="207.80" stroke="#1a1a1a" stroke-width="0.6"/>
<line x1="462.71" y1="5.50" x2="462.71" y2="8.00" stroke="#1a1a1a" stroke-width="0.6"/>
<line x1="468.22" y1="210.30" x2="468.22" y2="207.80" stroke="#1a1a1a" stroke-width="0.6"/>
<line x1="468.22" y1="5.50" x2="468.22" y2="8.00" stroke="#1a1a1a" stroke-width="0.6"/>
<line x1="473.73" y1="210.30" x2="473.73" y2="207.80" stroke="#1a1a1a" stroke-width="0.6"/>
<line x1="473.73" y1="5.50" x2="473.73" y2="8.00" stroke="#1a1a1a" stroke-width="0.6"/>
<line x1="479.24" y1="210.30" x2="479.24" y2="207.80" stroke="#1a1a1a" stroke-width="0.6"/>
<line x1="479.24" y1="5.50" x2="479.24" y2="8.00" stroke="#1a1a1a" stroke-width="0.6"/>
<line x1="490.26" y1="210.30" x2="490.26" y2="207.80" stroke="#1a1a1a" stroke-width="0.6"/>
<line x1="490.26" y1="5.50" x2="490.26" y2="8.00" stroke="#1a1a1a" stroke-width="0.6"/>
<line x1="495.77" y1="210.30" x2="495.77" y2="207.80" stroke="#1a1a1a" stroke-width="0.6"/>
<line x1="495.77" y1="5.50" x2="495.77" y2="8.00" stroke="#1a1a1a" stroke-width="0.6"/>
<line x1="501.28" y1="210.30" x2="501.28" y2="207.80" stroke="#1a1a1a" stroke-width="0.6"/>
<line x1="501.28" y1="5.50" x2="501.28" y2="8.00" stroke="#1a1a1a" stroke-width="0.6"/>
<line x1="506.79" y1="210.30" x2="506.79" y2="207.80" stroke="#1a1a1a" stroke-width="0.6"/>
<line x1="506.79" y1="5.50" x2="506.79" y2="8.00" stroke="#1a1a1a" stroke-width="0.6"/>
<line x1="517.81" y1="210.30" x2="517.81" y2="207.80" stroke="#1a1a1a" stroke-width="0.6"/>
<line x1="517.81" y1="5.50" x2="517.81" y2="8.00" stroke="#1a1a1a" stroke-width="0.6"/>
<line x1="523.32" y1="210.30" x2="523.32" y2="207.80" stroke="#1a1a1a" stroke-width="0.6"/>
<line x1="523.32" y1="5.50" x2="523.32" y2="8.00" stroke="#1a1a1a" stroke-width="0.6"/>
<line x1="528.83" y1="210.30" x2="528.83" y2="207.80" stroke="#1a1a1a" stroke-width="0.6"/>
<line x1="528.83" y1="5.50" x2="528.83" y2="8.00" stroke="#1a1a1a" stroke-width="0.6"/>
<line x1="534.34" y1="210.30" x2="534.34" y2="207.80" stroke="#1a1a1a" stroke-width="0.6"/>
<line x1="534.34" y1="5.50" x2="534.34" y2="8.00" stroke="#1a1a1a" stroke-width="0.6"/>
<line x1="545.36" y1="210.30" x2="545.36" y2="207.80" stroke="#1a1a1a" stroke-width="0.6"/>
<line x1="545.36" y1="5.50" x2="545.36" y2="8.00" stroke="#1a1a1a" stroke-width="0.6"/>
<line x1="550.87" y1="210.30" x2="550.87" y2="207.80" stroke="#1a1a1a" stroke-width="0.6"/>
<line x1="550.87" y1="5.50" x2="550.87" y2="8.00" stroke="#1a1a1a" stroke-width="0.6"/>
<line x1="556.38" y1="210.30" x2="556.38" y2="207.80" stroke="#1a1a1a" stroke-width="0.6"/>
<line x1="556.38" y1="5.50" x2="556.38" y2="8.00" stroke="#1a1a1a" stroke-width="0.6"/>
<line x1="561.89" y1="210.30" x2="561.89" y2="207.80" stroke="#1a1a1a" stroke-width="0.6"/>
<line x1="561.89" y1="5.50" x2="561.89" y2="8.00" stroke="#1a1a1a" stroke-width="0.6"/>
<line x1="572.91" y1="210.30" x2="572.91" y2="207.80" stroke="#1a1a1a" stroke-width="0.6"/>
<line x1="572.91" y1="5.50" x2="572.91" y2="8.00" stroke="#1a1a1a" stroke-width="0.6"/>
<line x1="578.42" y1="210.30" x2="578.42" y2="207.80" stroke="#1a1a1a" stroke-width="0.6"/>
<line x1="578.42" y1="5.50" x2="578.42" y2="8.00" stroke="#1a1a1a" stroke-width="0.6"/>
<line x1="583.93" y1="210.30" x2="583.93" y2="207.80" stroke="#1a1a1a" stroke-width="0.6"/>
<line x1="583.93" y1="5.50" x2="583.93" y2="8.00" stroke="#1a1a1a" stroke-width="0.6"/>
<line x1="589.44" y1="210.30" x2="589.44" y2="207.80" stroke="#1a1a1a" stroke-width="0.6"/>
<line x1="589.44" y1="5.50" x2="589.44" y2="8.00" stroke="#1a1a1a" stroke-width="0.6"/>
<line x1="600.46" y1="210.30" x2="600.46" y2="207.80" stroke="#1a1a1a" stroke-width="0.6"/>
<line x1="600.46" y1="5.50" x2="600.46" y2="8.00" stroke="#1a1a1a" stroke-width="0.6"/>
<line x1="605.97" y1="210.30" x2="605.97" y2="207.80" stroke="#1a1a1a" stroke-width="0.6"/>
<line x1="605.97" y1="5.50" x2="605.97" y2="8.00" stroke="#1a1a1a" stroke-width="0.6"/>
<line x1="611.48" y1="210.30" x2="611.48" y2="207.80" stroke="#1a1a1a" stroke-width="0.6"/>
<line x1="611.48" y1="5.50" x2="611.48" y2="8.00" stroke="#1a1a1a" stroke-width="0.6"/>
<line x1="616.99" y1="210.30" x2="616.99" y2="207.80" stroke="#1a1a1a" stroke-width="0.6"/>
<line x1="616.99" y1="5.50" x2="616.99" y2="8.00" stroke="#1a1a1a" stroke-width="0.6"/>
<line x1="628.01" y1="210.30" x2="628.01" y2="207.80" stroke="#1a1a1a" stroke-width="0.6"/>
<line x1="628.01" y1="5.50" x2="628.01" y2="8.00" stroke="#1a1a1a" stroke-width="0.6"/>
<line x1="633.52" y1="210.30" x2="633.52" y2="207.80" stroke="#1a1a1a" stroke-width="0.6"/>
<line x1="633.52" y1="5.50" x2="633.52" y2="8.00" stroke="#1a1a1a" stroke-width="0.6"/>
<line x1="639.03" y1="210.30" x2="639.03" y2="207.80" stroke="#1a1a1a" stroke-width="0.6"/>
<line x1="639.03" y1="5.50" x2="639.03" y2="8.00" stroke="#1a1a1a" stroke-width="0.6"/>
<line x1="644.54" y1="210.30" x2="644.54" y2="207.80" stroke="#1a1a1a" stroke-width="0.6"/>
<line x1="644.54" y1="5.50" x2="644.54" y2="8.00" stroke="#1a1a1a" stroke-width="0.6"/>
<line x1="655.56" y1="210.30" x2="655.56" y2="207.80" stroke="#1a1a1a" stroke-width="0.6"/>
<line x1="655.56" y1="5.50" x2="655.56" y2="8.00" stroke="#1a1a1a" stroke-width="0.6"/>
<line x1="661.07" y1="210.30" x2="661.07" y2="207.80" stroke="#1a1a1a" stroke-width="0.6"/>
<line x1="661.07" y1="5.50" x2="661.07" y2="8.00" stroke="#1a1a1a" stroke-width="0.6"/>
<line x1="666.58" y1="210.30" x2="666.58" y2="207.80" stroke="#1a1a1a" stroke-width="0.6"/>
<line x1="666.58" y1="5.50" x2="666.58" y2="8.00" stroke="#1a1a1a" stroke-width="0.6"/>
<line x1="672.09" y1="210.30" x2="672.09" y2="207.80" stroke="#1a1a1a" stroke-width="0.6"/>
<line x1="672.09" y1="5.50" x2="672.09" y2="8.00" stroke="#1a1a1a" stroke-width="0.6"/>
<line x1="402.10" y1="210.30" x2="407.50" y2="210.30" stroke="#1a1a1a" stroke-width="0.6"/>
<line x1="677.60" y1="210.30" x2="672.20" y2="210.30" stroke="#1a1a1a" stroke-width="0.6"/>
<line x1="402.10" y1="169.34" x2="407.50" y2="169.34" stroke="#1a1a1a" stroke-width="0.6"/>
<line x1="677.60" y1="169.34" x2="672.20" y2="169.34" stroke="#1a1a1a" stroke-width="0.6"/>
<line x1="402.10" y1="128.38" x2="407.50" y2="128.38" stroke="#1a1a1a" stroke-width="0.6"/>
<line x1="677.60" y1="128.38" x2="672.20" y2="128.38" stroke="#1a1a1a" stroke-width="0.6"/>
<line x1="402.10" y1="87.42" x2="407.50" y2="87.42" stroke="#1a1a1a" stroke-width="0.6"/>
<line x1="677.60" y1="87.42" x2="672.20" y2="87.42" stroke="#1a1a1a" stroke-width="0.6"/>
<line x1="402.10" y1="46.46" x2="407.50" y2="46.46" stroke="#1a1a1a" stroke-width="0.6"/>
<line x1="677.60" y1="46.46" x2="672.20" y2="46.46" stroke="#1a1a1a" stroke-width="0.6"/>
<line x1="402.10" y1="5.50" x2="407.50" y2="5.50" stroke="#1a1a1a" stroke-width="0.6"/>
<line x1="677.60" y1="5.50" x2="672.20" y2="5.50" stroke="#1a1a1a" stroke-width="0.6"/>
<line x1="402.10" y1="189.82" x2="404.60" y2="189.82" stroke="#1a1a1a" stroke-width="0.6"/>
<line x1="677.60" y1="189.82" x2="675.10" y2="189.82" stroke="#1a1a1a" stroke-width="0.6"/>
<line x1="402.10" y1="148.86" x2="404.60" y2="148.86" stroke="#1a1a1a" stroke-width="0.6"/>
<line x1="677.60" y1="148.86" x2="675.10" y2="148.86" stroke="#1a1a1a" stroke-width="0.6"/>
<line x1="402.10" y1="107.90" x2="404.60" y2="107.90" stroke="#1a1a1a" stroke-width="0.6"/>
<line x1="677.60" y1="107.90" x2="675.10" y2="107.90" stroke="#1a1a1a" stroke-width="0.6"/>
<line x1="402.10" y1="66.94" x2="404.60" y2="66.94" stroke="#1a1a1a" stroke-width="0.6"/>
<line x1="677.60" y1="66.94" x2="675.10" y2="66.94" stroke="#1a1a1a" stroke-width="0.6"/>
<line x1="402.10" y1="25.98" x2="404.60" y2="25.98" stroke="#1a1a1a" stroke-width="0.6"/>
<line x1="677.60" y1="25.98" x2="675.10" y2="25.98" stroke="#1a1a1a" stroke-width="0.6"/>
<rect x="402.1" y="5.5" width="275.5" height="204.8" fill="none" stroke="#1a1a1a" stroke-width="1.0"/>
<text class="sa" transform="translate(402.40,222.50)" font-size="12.5" text-anchor="middle" fill="#000">0</text>
<text class="sa" transform="translate(429.95,222.50)" font-size="12.5" text-anchor="middle" fill="#000">1</text>
<text class="sa" transform="translate(457.50,222.50)" font-size="12.5" text-anchor="middle" fill="#000">2</text>
<text class="sa" transform="translate(485.05,222.50)" font-size="12.5" text-anchor="middle" fill="#000">3</text>
<text class="sa" transform="translate(512.60,222.50)" font-size="12.5" text-anchor="middle" fill="#000">4</text>
<text class="sa" transform="translate(540.15,222.50)" font-size="12.5" text-anchor="middle" fill="#000">5</text>
<text class="sa" transform="translate(567.70,222.50)" font-size="12.5" text-anchor="middle" fill="#000">6</text>
<text class="sa" transform="translate(595.25,222.50)" font-size="12.5" text-anchor="middle" fill="#000">7</text>
<text class="sa" transform="translate(622.80,222.50)" font-size="12.5" text-anchor="middle" fill="#000">8</text>
<text class="sa" transform="translate(650.35,222.50)" font-size="12.5" text-anchor="middle" fill="#000">9</text>
<text class="sa" transform="translate(677.90,222.50)" font-size="12.5" text-anchor="middle" fill="#000">10</text>
<text class="sa" transform="translate(399.80,214.50)" font-size="12.5" text-anchor="end" fill="#000">0</text>
<text class="sa" transform="translate(399.80,173.54)" font-size="12.5" text-anchor="end" fill="#000">2e+05</text>
<text class="sa" transform="translate(399.80,132.58)" font-size="12.5" text-anchor="end" fill="#000">4e+05</text>
<text class="sa" transform="translate(399.80,91.62)" font-size="12.5" text-anchor="end" fill="#000">6e+05</text>
<text class="sa" transform="translate(399.80,50.66)" font-size="12.5" text-anchor="end" fill="#000">8e+05</text>
<text class="sa" transform="translate(399.80,9.70)" font-size="12.5" text-anchor="end" fill="#000">1e+06</text>
<text class="sa" transform="translate(539.85,236.40)" font-size="14.4" text-anchor="middle" fill="#000">Energy (eV)</text>
<text class="sa" transform="translate(358.50,107.90) rotate(-90)" font-size="14.4" text-anchor="middle" fill="#000">Electrical conductivity (S/m)</text>
<text class="se" transform="translate(407.60,26.80) scale(0.95,1)" font-size="17.0" text-anchor="start" fill="#000">(a2)</text>
<rect x="491.7" y="14.3" width="179.09999999999997" height="53.5" fill="#ffffff" stroke="#1a1a1a" stroke-width="1.1"/>
<line x1="495.80" y1="21.40" x2="506.90" y2="21.40" stroke="#ffa500" stroke-width="1.3"/>
<text class="sa" transform="translate(513.00,24.80)" font-size="10.3" text-anchor="start" fill="#000">Be 2.05 g/cc 512 atoms 3 eV</text>
<line x1="495.80" y1="34.00" x2="506.90" y2="34.00" stroke="#ff0000" stroke-width="1.3"/>
<text class="sa" transform="translate(513.00,37.40)" font-size="10.3" text-anchor="start" fill="#000">Be 2.05 g/cc 512 atoms 5 eV</text>
<line x1="495.80" y1="47.00" x2="506.90" y2="47.00" stroke="#a020f0" stroke-width="1.3"/>
<text class="sa" transform="translate(513.00,50.40)" font-size="10.3" text-anchor="start" fill="#000">CH1.36 0.95 g/cc 472 atoms 5 eV</text>
<line x1="495.80" y1="59.80" x2="506.90" y2="59.80" stroke="#0000ff" stroke-width="1.3"/>
<text class="sa" transform="translate(513.00,63.20)" font-size="10.3" text-anchor="start" fill="#000">CH1.36 0.95 g/cc 472 atoms 8 eV</text>
<polyline points="41.2,307.0 44.2,303.4 47.2,299.6 50.2,296.3 53.2,294.5 56.2,294.2 59.2,294.5 62.2,295.8 65.2,298.2 68.2,300.4 71.2,301.4 74.2,300.7 77.2,299.5 80.2,298.8 83.2,299.3 86.2,300.2 89.2,301.1 92.2,302.5 95.2,303.8 98.2,304.3 101.2,305.0 104.2,305.0 107.2,303.7 110.2,302.1 113.2,301.8 116.2,303.0 119.2,305.2 122.2,306.8 125.2,307.5 128.2,307.7 131.2,306.8 134.2,306.4 137.2,306.7 140.2,307.1 143.2,307.4 146.2,307.9 149.2,309.3 152.2,311.0 155.2,312.2 158.2,312.2 161.2,310.9 164.2,309.8 167.2,309.5 170.2,309.9 173.2,310.8 176.2,313.2 179.2,315.7 182.2,316.7 185.2,317.2 188.2,317.2 191.2,316.8 194.2,316.4 197.2,316.5 200.2,317.7 203.2,319.8 206.2,321.1 209.2,321.2 212.2,320.1 215.2,318.6 218.2,318.3 221.2,319.4 224.2,321.1 227.2,322.1 230.2,322.5 233.2,322.7 236.2,324.6 239.2,326.6 242.2,327.7 245.2,327.0 248.2,326.4 251.2,326.8 254.2,328.5 257.2,330.5 260.2,331.2 263.2,330.5 266.2,329.7 269.2,329.3 272.2,329.5 275.2,330.2 278.2,331.0 281.2,331.6 284.2,332.8 287.2,334.5 290.2,336.0 293.2,336.2 296.2,335.5 299.2,334.5 302.2,334.3 305.2,335.5 308.2,337.5 311.2,338.6 314.2,338.4 317.2,338.1 320.2,338.1 323.2,338.5 326.2,339.3 329.2,340.0 332.2,340.8 332.8,341.0" fill="none" stroke="#e0e0e0" stroke-width="0.85" stroke-linejoin="round" stroke-linecap="butt" opacity="1.0" clip-path="url(#cb1)"/>
<polyline points="41.2,306.4 44.2,302.7 47.2,298.9 50.2,296.1 53.2,295.2 56.2,296.4 59.2,298.0 62.2,299.4 65.2,300.5 68.2,300.8 71.2,300.4 74.2,299.9 77.2,299.9 80.2,300.2 83.2,301.0 86.2,301.4 89.2,302.0 92.2,303.5 95.2,304.8 98.2,304.9 101.2,304.8 104.2,304.2 107.2,303.3 110.2,303.1 113.2,304.2 116.2,306.0 119.2,307.6 122.2,308.2 125.2,308.2 128.2,308.1 131.2,307.3 134.2,307.5 137.2,308.8 140.2,310.4 143.2,311.6 146.2,311.6 149.2,311.0 152.2,310.1 155.2,309.7 158.2,310.5 161.2,311.9 164.2,313.7 167.2,314.5 170.2,314.0 173.2,312.8 176.2,313.2 179.2,314.6 182.2,315.5 185.2,316.3 188.2,316.9 191.2,317.3 194.2,317.8 197.2,318.5 200.2,319.6 203.2,320.9 206.2,321.8 209.2,322.4 212.2,322.5 215.2,322.5 218.2,322.9 221.2,323.6 224.2,324.3 227.2,324.2 230.2,323.4 233.2,322.1 236.2,322.4 239.2,323.7 242.2,325.8 245.2,327.8 248.2,329.8 251.2,331.3 254.2,331.8 257.2,331.2 260.2,329.9 263.2,329.0 266.2,329.6 269.2,331.2 272.2,332.8 275.2,333.8 278.2,334.1 281.2,333.6 284.2,333.5 287.2,334.2 290.2,335.5 293.2,336.9 296.2,338.1 299.2,338.7 302.2,338.6 305.2,338.2 308.2,338.0 311.2,337.6 314.2,337.4 317.2,338.0 320.2,338.9 323.2,339.8 326.2,340.8 329.2,342.0 332.2,343.2 332.8,343.4" fill="none" stroke="#e0e0e0" stroke-width="0.85" stroke-linejoin="round" stroke-linecap="butt" opacity="1.0" clip-path="url(#cb1)"/>
<polyline points="41.2,303.0 44.2,299.6 47.2,296.9 50.2,295.3 53.2,295.5 56.2,297.5 59.2,299.8 62.2,301.7 65.2,302.7 68.2,302.1 71.2,300.2 74.2,298.3 77.2,297.5 80.2,297.5 83.2,297.7 86.2,297.5 89.2,297.7 92.2,299.4 95.2,301.5 98.2,302.6 101.2,303.3 104.2,303.8 107.2,304.3 110.2,305.0 113.2,305.7 116.2,305.5 119.2,304.7 122.2,303.6 125.2,303.7 128.2,304.7 131.2,305.1 134.2,305.3 137.2,306.2 140.2,307.4 143.2,308.7 146.2,309.3 149.2,309.2 152.2,308.8 155.2,309.0 158.2,309.9 161.2,310.8 164.2,311.3 167.2,310.9 170.2,310.3 173.2,310.3 176.2,312.4 179.2,314.8 182.2,315.5 185.2,315.5 188.2,315.4 191.2,315.6 194.2,315.8 197.2,315.6 200.2,315.5 203.2,316.1 206.2,317.2 209.2,318.8 212.2,320.0 215.2,320.8 218.2,321.8 221.2,323.1 224.2,324.2 227.2,324.0 230.2,322.6 233.2,321.0 236.2,321.7 239.2,323.4 242.2,325.1 245.2,325.5 248.2,325.4 251.2,325.8 254.2,326.8 257.2,328.0 260.2,328.3 263.2,328.0 266.2,328.4 269.2,329.4 272.2,330.5 275.2,331.3 278.2,331.6 281.2,331.6 284.2,332.3 287.2,333.9 290.2,335.3 293.2,335.9 296.2,335.8 299.2,335.8 302.2,336.3 305.2,336.8 308.2,336.9 311.2,335.9 314.2,334.7 317.2,334.8 320.2,336.0 323.2,337.1 326.2,337.9 329.2,338.5 332.2,339.5 332.8,339.8" fill="none" stroke="#e0e0e0" stroke-width="0.85" stroke-linejoin="round" stroke-linecap="butt" opacity="1.0" clip-path="url(#cb1)"/>
<polyline points="62.2,300.2 65.2,299.2 68.2,299.3 71.2,299.9 74.2,300.0 77.2,299.4 80.2,298.9 83.2,299.1 86.2,300.0 89.2,300.7 92.2,300.9 95.2,301.2 98.2,301.9 101.2,302.6 104.2,302.8 107.2,302.5 110.2,303.0 113.2,304.3 116.2,305.7 119.2,305.9 122.2,305.1 125.2,304.8 128.2,306.0 131.2,307.8 134.2,308.8 137.2,308.5 140.2,307.9 143.2,308.1 146.2,309.1 149.2,310.1 152.2,310.9 155.2,311.4 158.2,311.8 161.2,312.0 164.2,312.0 167.2,312.7 170.2,314.4 173.2,316.3 176.2,316.9 179.2,316.1 182.2,315.2 185.2,316.0 188.2,318.3 191.2,320.1 194.2,320.1 197.2,318.7 200.2,317.9 203.2,318.8 206.2,320.7 209.2,321.8 212.2,321.9 215.2,321.4 218.2,321.2 221.2,321.6 224.2,322.5 227.2,323.9 230.2,325.4 233.2,326.1 236.2,325.8 239.2,325.3 242.2,326.0 245.2,328.3 248.2,330.6 251.2,331.2 254.2,329.9 257.2,328.8 260.2,329.5 263.2,331.5 266.2,333.0 269.2,332.8 272.2,331.5 275.2,330.8 278.2,331.3 281.2,332.4 284.2,333.5 287.2,334.2 290.2,334.7 293.2,335.0 296.2,335.2 299.2,335.8 302.2,337.4 305.2,339.3 308.2,340.5 311.2,339.9 314.2,338.9 317.2,339.0 320.2,340.5 323.2,342.1 326.2,342.4 329.2,341.5 332.2,340.8 332.8,340.8" fill="none" stroke="#e0e0e0" stroke-width="0.85" stroke-linejoin="round" stroke-linecap="butt" opacity="1.0" clip-path="url(#cb1)"/>
<polyline points="41.2,307.6 44.2,305.8 47.2,303.9 50.2,301.6 53.2,300.0 56.2,299.6 59.2,300.1 62.2,301.6 65.2,303.4 68.2,304.3 71.2,303.7 74.2,302.2 77.2,301.3 80.2,301.5 83.2,302.7 86.2,303.7 89.2,303.9 92.2,304.2 95.2,304.2 98.2,303.7 101.2,304.2 104.2,304.9 107.2,305.1 110.2,304.8 113.2,304.9 116.2,305.4 119.2,306.6 122.2,307.9 125.2,309.1 128.2,310.0 131.2,309.4 134.2,308.8 137.2,309.3 140.2,310.6 143.2,312.1 146.2,312.8 149.2,312.7 152.2,311.8 155.2,311.1 158.2,311.1 161.2,311.9 164.2,313.0 167.2,313.4 170.2,312.7 173.2,311.9 176.2,313.4 179.2,316.3 182.2,318.3 185.2,319.5 188.2,319.5 191.2,319.0 194.2,318.7 197.2,319.3 200.2,320.4 203.2,321.5 206.2,321.6 209.2,320.9 212.2,320.3 215.2,320.5 218.2,322.3 221.2,324.8 224.2,326.8 227.2,327.0 230.2,325.9 233.2,324.4 236.2,324.9 239.2,326.5 242.2,328.3 245.2,328.8 248.2,328.6 251.2,328.2 254.2,328.3 257.2,329.1 260.2,330.1 263.2,331.0 266.2,332.0 269.2,332.8 272.2,333.5 275.2,334.5 278.2,335.8 281.2,336.9 284.2,337.1 287.2,336.7 290.2,335.7 293.2,335.1 296.2,335.6 299.2,337.1 302.2,338.7 305.2,339.5 308.2,339.5 311.2,338.5 314.2,337.7 317.2,338.5 320.2,340.1 323.2,341.6 326.2,342.4 329.2,342.8 332.2,343.1 332.8,343.3" fill="none" stroke="#e0e0e0" stroke-width="0.85" stroke-linejoin="round" stroke-linecap="butt" opacity="1.0" clip-path="url(#cb1)"/>
<polyline points="41.2,364.1 44.2,362.2 47.2,360.2 50.2,358.8 53.2,358.8 56.2,358.8 59.2,357.9 62.2,356.4 65.2,355.4 68.2,355.4 71.2,355.6 74.2,355.1 77.2,353.7 80.2,352.6 83.2,352.4 86.2,352.6 89.2,352.2 92.2,351.3 95.2,350.5 98.2,350.3 101.2,350.4 104.2,350.0 107.2,349.3 110.2,348.8 113.2,348.9 116.2,349.1 119.2,348.8 122.2,347.9 125.2,347.3 128.2,347.5 131.2,348.1 134.2,347.9 137.2,346.9 140.2,345.7 143.2,345.4 146.2,345.9 149.2,346.2 152.2,345.5 155.2,344.3 158.2,343.6 161.2,343.8 164.2,344.2 167.2,344.4 170.2,344.0 173.2,343.7 176.2,344.0 179.2,344.4 182.2,344.2 185.2,343.7 188.2,343.5 191.2,343.8 194.2,343.9 197.2,343.3 200.2,342.6 203.2,342.6 206.2,343.1 209.2,343.2 212.2,342.6 215.2,341.9 218.2,341.8 221.2,342.1 224.2,342.4 227.2,342.2 230.2,341.9 233.2,341.6 236.2,341.3 239.2,341.2 242.2,341.2 245.2,341.2 248.2,340.9 251.2,340.0 254.2,339.3 257.2,339.3 260.2,340.2 263.2,340.6 266.2,339.9 269.2,339.1 272.2,339.5 275.2,340.4 278.2,340.6 281.2,339.7 284.2,338.8 287.2,339.0 290.2,339.8 293.2,339.8 296.2,338.7 299.2,338.2 302.2,339.0 305.2,340.0 308.2,339.3 311.2,337.6 314.2,336.9 317.2,338.3 320.2,339.8 323.2,339.7 326.2,338.4 329.2,338.3 332.2,339.9 332.8,340.4" fill="none" stroke="#e0e0e0" stroke-width="0.85" stroke-linejoin="round" stroke-linecap="butt" opacity="1.0" clip-path="url(#cb1)"/>
<polyline points="41.2,361.9 44.2,360.2 47.2,359.4 50.2,358.9 53.2,358.5 56.2,357.5 59.2,356.2 62.2,355.3 65.2,354.9 68.2,354.7 71.2,354.3 74.2,353.6 77.2,352.7 80.2,351.9 83.2,351.4 86.2,351.2 89.2,350.9 92.2,350.2 95.2,349.5 98.2,349.2 101.2,349.3 104.2,349.7 107.2,349.6 110.2,348.9 113.2,347.8 116.2,347.0 119.2,346.7 122.2,346.8 125.2,346.9 128.2,346.7 131.2,346.2 134.2,345.6 137.2,345.5 140.2,345.6 143.2,345.6 146.2,345.2 149.2,344.6 152.2,344.2 155.2,344.1 158.2,344.2 161.2,343.7 164.2,342.7 167.2,342.0 170.2,341.8 173.2,342.0 176.2,342.7 179.2,343.5 182.2,343.8 185.2,343.6 188.2,343.2 191.2,342.9 194.2,342.6 197.2,342.2 200.2,341.5 203.2,340.9 206.2,340.7 209.2,341.3 212.2,342.2 215.2,342.8 218.2,342.6 221.2,341.7 224.2,340.8 227.2,340.3 230.2,340.3 233.2,340.4 236.2,340.2 239.2,339.9 242.2,339.7 245.2,339.7 248.2,340.0 251.2,339.9 254.2,339.4 257.2,338.5 260.2,338.2 263.2,338.4 266.2,339.1 269.2,339.6 272.2,339.7 275.2,339.1 278.2,338.4 281.2,338.2 284.2,338.4 287.2,338.6 290.2,338.4 293.2,338.0 296.2,337.6 299.2,337.6 302.2,337.9 305.2,338.1 308.2,337.8 311.2,337.2 314.2,336.9 317.2,337.3 320.2,338.3 323.2,339.0 326.2,339.1 329.2,338.7 332.2,338.3 332.8,338.3" fill="none" stroke="#e0e0e0" stroke-width="0.85" stroke-linejoin="round" stroke-linecap="butt" opacity="1.0" clip-path="url(#cb1)"/>
<polyline points="41.2,361.9 44.2,360.6 47.2,359.3 50.2,358.1 53.2,357.3 56.2,356.5 59.2,355.8 62.2,355.0 65.2,354.1 68.2,353.2 71.2,352.4 74.2,352.1 77.2,352.0 80.2,351.7 83.2,351.3 86.2,350.5 89.2,349.8 92.2,349.2 95.2,349.1 98.2,349.2 101.2,349.2 104.2,348.8 107.2,348.1 110.2,347.1 113.2,346.3 116.2,345.9 119.2,345.9 122.2,346.1 125.2,346.3 128.2,346.4 131.2,346.1 134.2,345.7 137.2,345.2 140.2,344.7 143.2,344.2 146.2,343.8 149.2,343.4 152.2,343.1 155.2,342.8 158.2,342.6 161.2,342.2 164.2,341.8 167.2,342.2 170.2,342.7 173.2,342.9 176.2,343.0 179.2,342.7 182.2,342.0 185.2,341.2 188.2,340.6 191.2,340.5 194.2,341.0 197.2,341.9 200.2,342.6 203.2,342.7 206.2,342.1 209.2,341.2 212.2,340.2 215.2,339.7 218.2,339.8 221.2,340.2 224.2,340.6 227.2,340.6 230.2,340.2 233.2,339.6 236.2,339.1 239.2,338.9 242.2,339.0 245.2,339.2 248.2,339.3 251.2,339.1 254.2,338.7 257.2,338.1 260.2,337.7 263.2,337.4 266.2,337.4 269.2,337.8 272.2,338.4 275.2,338.8 278.2,338.8 281.2,338.4 284.2,337.7 287.2,337.0 290.2,336.7 293.2,336.9 296.2,337.5 299.2,337.8 302.2,337.7 305.2,337.0 308.2,336.1 311.2,335.4 314.2,335.5 317.2,336.5 320.2,337.9 323.2,338.9 326.2,339.1 329.2,338.6 332.2,337.8 332.8,337.7" fill="none" stroke="#e0e0e0" stroke-width="0.85" stroke-linejoin="round" stroke-linecap="butt" opacity="1.0" clip-path="url(#cb1)"/>
<polyline points="41.2,365.0 44.2,363.9 47.2,362.7 50.2,361.0 53.2,359.3 56.2,357.8 59.2,357.0 62.2,357.0 65.2,357.2 68.2,357.2 71.2,356.6 74.2,355.6 77.2,354.6 80.2,353.9 83.2,353.4 86.2,353.1 89.2,352.7 92.2,352.1 95.2,351.3 98.2,350.6 101.2,350.2 104.2,350.1 107.2,350.0 110.2,349.9 113.2,349.9 116.2,349.9 119.2,350.0 122.2,349.9 125.2,349.5 128.2,348.7 131.2,347.8 134.2,347.0 137.2,346.8 140.2,347.0 143.2,347.4 146.2,347.3 149.2,346.8 152.2,345.9 155.2,345.2 158.2,344.9 161.2,344.9 164.2,344.9 167.2,345.2 170.2,345.0 173.2,344.3 176.2,343.7 179.2,343.6 182.2,344.0 185.2,344.5 188.2,345.0 191.2,345.2 194.2,345.1 197.2,345.0 200.2,344.7 203.2,344.4 206.2,343.9 209.2,343.3 212.2,343.0 215.2,342.8 218.2,342.9 221.2,343.0 224.2,342.8 227.2,342.4 230.2,341.9 233.2,341.7 236.2,341.9 239.2,342.3 242.2,342.6 245.2,342.2 248.2,341.4 251.2,340.4 254.2,339.8 257.2,339.9 260.2,340.6 263.2,341.4 266.2,341.8 269.2,341.7 272.2,341.4 275.2,340.9 278.2,340.5 281.2,340.4 284.2,340.2 287.2,340.0 290.2,339.6 293.2,339.4 296.2,339.4 299.2,339.4 302.2,339.3 305.2,339.2 308.2,339.0 311.2,339.0 314.2,339.3 317.2,339.9 320.2,340.4 323.2,340.4 326.2,340.2 329.2,340.0 332.2,340.4 332.8,340.5" fill="none" stroke="#e0e0e0" stroke-width="0.85" stroke-linejoin="round" stroke-linecap="butt" opacity="1.0" clip-path="url(#cb1)"/>
<path d="M41.20,422.80 C41.48,421.78 42.32,419.75 42.90,416.70 C43.48,413.65 44.10,408.58 44.70,404.50 C45.30,400.42 45.88,396.28 46.50,392.20 C47.12,388.12 47.95,384.25 48.40,380.00 C48.85,375.75 48.82,371.37 49.20,366.70 C49.58,362.03 50.20,356.32 50.70,352.00 C51.20,347.68 51.58,345.12 52.20,340.80 C52.82,336.48 53.67,330.75 54.40,326.10 C55.13,321.45 55.87,316.68 56.60,312.90 C57.33,309.12 58.07,305.72 58.80,303.40 C59.53,301.08 60.15,299.92 61.00,299.00 C61.85,298.08 62.80,298.15 63.90,297.90 C65.00,297.65 66.38,297.82 67.60,297.50 C68.82,297.18 69.98,296.45 71.20,296.00 C72.42,295.55 73.55,295.08 74.90,294.80 C76.25,294.52 77.95,294.67 79.30,294.30 C80.65,293.93 81.90,292.68 83.00,292.60 C84.10,292.52 84.92,293.30 85.90,293.80 C86.88,294.30 87.92,295.23 88.90,295.60 C89.88,295.97 90.83,296.05 91.80,296.00 C92.77,295.95 93.72,295.22 94.70,295.30 C95.68,295.38 96.60,295.88 97.70,296.50 C98.80,297.12 99.95,298.35 101.30,299.00 C102.65,299.65 104.45,300.03 105.80,300.40 C107.15,300.77 108.07,301.20 109.40,301.20 C110.73,301.20 112.33,300.48 113.80,300.40 C115.27,300.32 116.73,300.75 118.20,300.70 C119.67,300.65 121.13,300.32 122.60,300.10 C124.07,299.88 125.77,299.47 127.00,299.40 C128.23,299.33 128.88,299.12 130.00,299.70 C131.12,300.28 132.48,301.92 133.70,302.90 C134.92,303.88 135.72,304.92 137.30,305.60 C138.88,306.28 141.23,306.77 143.20,307.00 C145.17,307.23 147.38,306.70 149.10,307.00 C150.82,307.30 151.78,308.12 153.50,308.80 C155.22,309.48 157.45,310.58 159.40,311.10 C161.35,311.62 163.50,311.77 165.20,311.90 C166.90,312.03 168.12,311.73 169.60,311.90 C171.08,312.07 172.38,312.37 174.10,312.90 C175.82,313.43 177.95,314.67 179.90,315.10 C181.85,315.53 183.83,315.18 185.80,315.50 C187.77,315.82 189.75,316.65 191.70,317.00 C193.65,317.35 195.55,317.50 197.50,317.60 C199.45,317.70 201.43,317.22 203.40,317.60 C205.37,317.98 207.33,319.22 209.30,319.90 C211.27,320.58 213.25,321.20 215.20,321.70 C217.15,322.20 219.05,322.45 221.00,322.90 C222.95,323.35 224.90,324.05 226.90,324.40 C228.90,324.75 230.82,324.60 233.00,325.00 C235.18,325.40 237.30,326.25 240.00,326.80 C242.70,327.35 246.32,327.70 249.20,328.30 C252.08,328.90 254.88,330.25 257.30,330.40 C259.72,330.55 261.55,329.10 263.70,329.20 C265.85,329.30 268.05,330.33 270.20,331.00 C272.35,331.67 274.45,332.93 276.60,333.20 C278.75,333.47 280.95,332.47 283.10,332.60 C285.25,332.73 287.35,333.60 289.50,334.00 C291.65,334.40 293.85,334.60 296.00,335.00 C298.15,335.40 300.25,335.93 302.40,336.40 C304.55,336.87 306.75,337.53 308.90,337.80 C311.05,338.07 313.15,337.77 315.30,338.00 C317.45,338.23 319.65,338.77 321.80,339.20 C323.95,339.63 326.37,340.17 328.20,340.60 C330.03,341.03 332.03,341.60 332.80,341.80" fill="none" stroke="#ff00ff" stroke-width="1.25" stroke-linejoin="round" opacity="1.0" clip-path="url(#cb1)"/>
<path d="M41.20,367.00 C41.37,366.17 41.85,363.67 42.20,362.00 C42.55,360.33 42.87,360.05 43.30,357.00 C43.73,353.95 44.18,348.60 44.80,343.70 C45.42,338.80 46.27,332.48 47.00,327.60 C47.73,322.72 48.47,317.83 49.20,314.40 C49.93,310.97 50.53,309.02 51.40,307.00 C52.27,304.98 53.30,303.45 54.40,302.30 C55.50,301.15 56.17,300.62 58.00,300.10 C59.83,299.58 62.47,299.43 65.40,299.20 C68.33,298.97 72.42,298.62 75.60,298.70 C78.78,298.78 81.32,299.28 84.50,299.70 C87.68,300.12 91.28,300.77 94.70,301.20 C98.12,301.63 101.57,301.93 105.00,302.30 C108.43,302.67 112.12,302.98 115.30,303.40 C118.48,303.82 120.65,304.15 124.10,304.80 C127.55,305.45 132.57,306.57 136.00,307.30 C139.43,308.03 140.80,308.43 144.70,309.20 C148.60,309.97 154.50,311.03 159.40,311.90 C164.30,312.77 169.22,313.62 174.10,314.40 C178.98,315.18 183.82,315.75 188.70,316.60 C193.58,317.45 198.50,318.53 203.40,319.50 C208.30,320.47 213.67,321.62 218.10,322.40 C222.53,323.18 225.90,323.53 230.00,324.20 C234.10,324.87 238.15,325.57 242.70,326.40 C247.25,327.23 252.72,328.37 257.30,329.20 C261.88,330.03 265.90,330.72 270.20,331.40 C274.50,332.08 278.80,332.55 283.10,333.30 C287.40,334.05 291.70,335.12 296.00,335.90 C300.30,336.68 304.60,337.48 308.90,338.00 C313.20,338.52 317.82,338.45 321.80,339.00 C325.78,339.55 330.97,340.92 332.80,341.30" fill="none" stroke="#ffa500" stroke-width="1.2" stroke-linejoin="round" opacity="1.0" clip-path="url(#cb1)"/>
<path d="M41.20,429.80 C41.37,429.67 41.82,429.45 42.20,429.00 C42.58,428.55 42.98,428.33 43.50,427.10 C44.02,425.87 44.70,424.15 45.30,421.60 C45.90,419.05 46.48,415.27 47.10,411.80 C47.72,408.33 48.38,404.47 49.00,400.80 C49.62,397.13 50.23,393.35 50.80,389.80 C51.37,386.25 51.80,382.58 52.40,379.50 C53.00,376.42 53.58,373.68 54.40,371.30 C55.22,368.92 56.20,366.82 57.30,365.20 C58.40,363.58 59.65,362.55 61.00,361.60 C62.35,360.65 63.45,360.00 65.40,359.50 C67.35,359.00 70.25,359.10 72.70,358.60 C75.15,358.10 77.65,357.10 80.10,356.50 C82.55,355.90 85.45,355.08 87.40,355.00 C89.35,354.92 90.08,356.13 91.80,356.00 C93.52,355.87 95.50,354.62 97.70,354.20 C99.90,353.78 102.55,353.78 105.00,353.50 C107.45,353.22 109.95,352.85 112.40,352.50 C114.85,352.15 117.27,351.55 119.70,351.40 C122.13,351.25 124.55,351.57 127.00,351.60 C129.45,351.63 132.18,351.88 134.40,351.60 C136.62,351.32 138.33,350.23 140.30,349.90 C142.27,349.57 144.25,349.53 146.20,349.60 C148.15,349.67 149.80,350.13 152.00,350.30 C154.20,350.47 156.95,350.72 159.40,350.60 C161.85,350.48 164.50,350.12 166.70,349.60 C168.90,349.08 170.63,347.85 172.60,347.50 C174.57,347.15 176.30,347.20 178.50,347.50 C180.70,347.80 183.60,349.15 185.80,349.30 C188.00,349.45 189.75,348.82 191.70,348.40 C193.65,347.98 195.55,347.20 197.50,346.80 C199.45,346.40 201.43,345.90 203.40,346.00 C205.37,346.10 207.33,347.28 209.30,347.40 C211.27,347.52 213.25,347.05 215.20,346.70 C217.15,346.35 219.03,345.48 221.00,345.30 C222.97,345.12 224.98,345.68 227.00,345.60 C229.02,345.52 230.75,344.73 233.10,344.80 C235.45,344.87 238.42,345.80 241.10,346.00 C243.78,346.20 246.50,346.27 249.20,346.00 C251.90,345.73 254.62,344.75 257.30,344.40 C259.98,344.05 262.62,343.90 265.30,343.90 C267.98,343.90 270.70,344.47 273.40,344.40 C276.10,344.33 278.82,343.78 281.50,343.50 C284.18,343.22 286.82,342.48 289.50,342.70 C292.18,342.92 294.92,344.67 297.60,344.80 C300.28,344.93 303.18,343.92 305.60,343.50 C308.02,343.08 309.95,341.88 312.10,342.30 C314.25,342.72 316.35,345.80 318.50,346.00 C320.65,346.20 322.62,344.05 325.00,343.50 C327.38,342.95 331.50,342.83 332.80,342.70" fill="none" stroke="#9400d3" stroke-width="1.25" stroke-linejoin="round" opacity="1.0" clip-path="url(#cb1)"/>
<path d="M41.20,394.80 C41.42,394.50 42.02,393.87 42.50,393.00 C42.98,392.13 43.43,391.68 44.10,389.60 C44.77,387.52 45.77,383.52 46.50,380.50 C47.23,377.48 47.80,374.05 48.50,371.50 C49.20,368.95 49.85,366.80 50.70,365.20 C51.55,363.60 52.38,362.80 53.60,361.90 C54.82,361.00 56.03,360.42 58.00,359.80 C59.97,359.18 62.95,358.70 65.40,358.20 C67.85,357.70 70.25,357.28 72.70,356.80 C75.15,356.32 76.43,355.85 80.10,355.30 C83.77,354.75 89.82,354.10 94.70,353.50 C99.58,352.90 104.50,352.25 109.40,351.70 C114.30,351.15 119.67,350.60 124.10,350.20 C128.53,349.80 132.57,349.60 136.00,349.30 C139.43,349.00 140.80,348.60 144.70,348.40 C148.60,348.20 155.48,348.17 159.40,348.10 C163.32,348.03 165.75,348.22 168.20,348.00 C170.65,347.78 171.65,347.07 174.10,346.80 C176.55,346.53 179.97,346.58 182.90,346.40 C185.83,346.22 188.28,345.85 191.70,345.70 C195.12,345.55 200.22,345.68 203.40,345.50 C206.58,345.32 208.35,344.70 210.80,344.60 C213.25,344.50 214.90,345.02 218.10,344.90 C221.30,344.78 226.17,344.13 230.00,343.90 C233.83,343.67 236.55,343.62 241.10,343.50 C245.65,343.38 251.92,343.25 257.30,343.20 C262.68,343.15 268.03,343.35 273.40,343.20 C278.77,343.05 284.13,342.45 289.50,342.30 C294.87,342.15 301.30,342.48 305.60,342.30 C309.90,342.12 312.07,341.20 315.30,341.20 C318.53,341.20 322.08,342.05 325.00,342.30 C327.92,342.55 331.50,342.63 332.80,342.70" fill="none" stroke="#1a00ff" stroke-width="1.15" stroke-linejoin="round" opacity="1.0" clip-path="url(#cb1)"/>
<path d="M41.20,306.40 C41.80,305.90 43.47,304.45 44.80,303.40 C46.13,302.35 47.85,300.77 49.20,300.10 C50.55,299.43 51.43,299.30 52.90,299.40 C54.37,299.50 56.42,300.37 58.00,300.70 C59.58,301.03 60.93,301.20 62.40,301.40 C63.87,301.60 65.33,301.98 66.80,301.90 C68.27,301.82 69.73,301.27 71.20,300.90 C72.67,300.53 74.12,299.83 75.60,299.70 C77.08,299.57 78.62,299.85 80.10,300.10 C81.58,300.35 83.03,300.98 84.50,301.20 C85.97,301.42 87.20,301.12 88.90,301.40 C90.60,301.68 93.00,302.70 94.70,302.90 C96.40,303.10 97.38,302.52 99.10,302.60 C100.82,302.68 103.28,303.20 105.00,303.40 C106.72,303.60 107.68,303.43 109.40,303.80 C111.12,304.17 113.58,305.18 115.30,305.60 C117.02,306.02 118.23,306.23 119.70,306.30 C121.17,306.37 122.63,305.88 124.10,306.00 C125.57,306.12 127.03,306.83 128.50,307.00 C129.97,307.17 131.67,306.87 132.90,307.00 C134.13,307.13 134.43,307.43 135.90,307.80 C137.37,308.17 139.75,308.88 141.70,309.20 C143.65,309.52 145.63,309.45 147.60,309.70 C149.57,309.95 151.53,310.28 153.50,310.70 C155.47,311.12 157.45,311.83 159.40,312.20 C161.35,312.57 163.62,312.90 165.20,312.90 C166.78,312.90 167.67,312.60 168.90,312.20 C170.13,311.80 171.50,310.67 172.60,310.50 C173.70,310.33 174.28,310.60 175.50,311.20 C176.72,311.80 178.18,313.33 179.90,314.10 C181.62,314.87 183.83,315.33 185.80,315.80 C187.77,316.27 189.75,316.45 191.70,316.90 C193.65,317.35 195.55,317.95 197.50,318.50 C199.45,319.05 201.43,319.78 203.40,320.20 C205.37,320.62 207.33,320.75 209.30,321.00 C211.27,321.25 213.25,321.38 215.20,321.70 C217.15,322.02 219.37,322.63 221.00,322.90 C222.63,323.17 223.53,323.40 225.00,323.30 C226.47,323.20 228.32,322.60 229.80,322.30 C231.28,322.00 232.68,321.32 233.90,321.50 C235.12,321.68 235.63,322.55 237.10,323.40 C238.57,324.25 240.68,325.88 242.70,326.60 C244.72,327.32 246.77,327.23 249.20,327.70 C251.63,328.17 254.88,329.05 257.30,329.40 C259.72,329.75 261.55,329.40 263.70,329.80 C265.85,330.20 268.05,331.32 270.20,331.80 C272.35,332.28 274.45,332.48 276.60,332.70 C278.75,332.92 280.95,332.77 283.10,333.10 C285.25,333.43 287.35,334.25 289.50,334.70 C291.65,335.15 293.85,335.40 296.00,335.80 C298.15,336.20 300.25,336.70 302.40,337.10 C304.55,337.50 306.75,338.15 308.90,338.20 C311.05,338.25 313.15,337.32 315.30,337.40 C317.45,337.48 319.65,338.22 321.80,338.70 C323.95,339.18 326.37,339.82 328.20,340.30 C330.03,340.78 332.03,341.38 332.80,341.60" fill="none" stroke="#ff0000" stroke-width="1.25" stroke-linejoin="round" opacity="1.0" clip-path="url(#cb1)"/>
<path d="M41.20,365.20 C41.50,365.03 42.15,364.63 43.00,364.20 C43.85,363.77 45.02,363.17 46.30,362.60 C47.58,362.03 48.75,361.42 50.70,360.80 C52.65,360.18 55.55,359.45 58.00,358.90 C60.45,358.35 62.95,358.02 65.40,357.50 C67.85,356.98 70.25,356.28 72.70,355.80 C75.15,355.32 77.65,354.98 80.10,354.60 C82.55,354.22 84.97,353.85 87.40,353.50 C89.83,353.15 92.25,352.82 94.70,352.50 C97.15,352.18 99.65,351.90 102.10,351.60 C104.55,351.30 106.95,350.98 109.40,350.70 C111.85,350.42 114.35,350.15 116.80,349.90 C119.25,349.65 121.90,349.37 124.10,349.20 C126.30,349.03 126.57,349.20 130.00,348.90 C133.43,348.60 139.80,347.90 144.70,347.40 C149.60,346.90 156.22,346.30 159.40,345.90 C162.58,345.50 161.85,345.05 163.80,345.00 C165.75,344.95 168.17,345.57 171.10,345.60 C174.03,345.63 177.23,345.33 181.40,345.20 C185.57,345.07 191.20,344.97 196.10,344.80 C201.00,344.63 206.65,344.42 210.80,344.20 C214.95,343.98 217.80,343.67 221.00,343.50 C224.20,343.33 226.65,343.38 230.00,343.20 C233.35,343.02 236.55,342.73 241.10,342.40 C245.65,342.07 251.92,341.33 257.30,341.20 C262.68,341.07 268.03,341.73 273.40,341.60 C278.77,341.47 284.13,340.62 289.50,340.40 C294.87,340.18 301.30,340.43 305.60,340.30 C309.90,340.17 312.07,339.55 315.30,339.60 C318.53,339.65 322.08,340.27 325.00,340.60 C327.92,340.93 331.50,341.43 332.80,341.60" fill="none" stroke="#000000" stroke-width="1.3" stroke-linejoin="round" opacity="1.0" clip-path="url(#cb1)"/>
<line x1="41.30" y1="460.30" x2="41.30" y2="454.20" stroke="#1a1a1a" stroke-width="0.9"/>
<line x1="41.30" y1="253.90" x2="41.30" y2="260.00" stroke="#1a1a1a" stroke-width="0.9"/>
<line x1="70.38" y1="460.30" x2="70.38" y2="454.20" stroke="#1a1a1a" stroke-width="0.9"/>
<line x1="70.38" y1="253.90" x2="70.38" y2="260.00" stroke="#1a1a1a" stroke-width="0.9"/>
<line x1="99.46" y1="460.30" x2="99.46" y2="454.20" stroke="#1a1a1a" stroke-width="0.9"/>
<line x1="99.46" y1="253.90" x2="99.46" y2="260.00" stroke="#1a1a1a" stroke-width="0.9"/>
<line x1="128.54" y1="460.30" x2="128.54" y2="454.20" stroke="#1a1a1a" stroke-width="0.9"/>
<line x1="128.54" y1="253.90" x2="128.54" y2="260.00" stroke="#1a1a1a" stroke-width="0.9"/>
<line x1="157.62" y1="460.30" x2="157.62" y2="454.20" stroke="#1a1a1a" stroke-width="0.9"/>
<line x1="157.62" y1="253.90" x2="157.62" y2="260.00" stroke="#1a1a1a" stroke-width="0.9"/>
<line x1="186.70" y1="460.30" x2="186.70" y2="454.20" stroke="#1a1a1a" stroke-width="0.9"/>
<line x1="186.70" y1="253.90" x2="186.70" y2="260.00" stroke="#1a1a1a" stroke-width="0.9"/>
<line x1="215.78" y1="460.30" x2="215.78" y2="454.20" stroke="#1a1a1a" stroke-width="0.9"/>
<line x1="215.78" y1="253.90" x2="215.78" y2="260.00" stroke="#1a1a1a" stroke-width="0.9"/>
<line x1="244.86" y1="460.30" x2="244.86" y2="454.20" stroke="#1a1a1a" stroke-width="0.9"/>
<line x1="244.86" y1="253.90" x2="244.86" y2="260.00" stroke="#1a1a1a" stroke-width="0.9"/>
<line x1="273.94" y1="460.30" x2="273.94" y2="454.20" stroke="#1a1a1a" stroke-width="0.9"/>
<line x1="273.94" y1="253.90" x2="273.94" y2="260.00" stroke="#1a1a1a" stroke-width="0.9"/>
<line x1="303.02" y1="460.30" x2="303.02" y2="454.20" stroke="#1a1a1a" stroke-width="0.9"/>
<line x1="303.02" y1="253.90" x2="303.02" y2="260.00" stroke="#1a1a1a" stroke-width="0.9"/>
<line x1="332.10" y1="460.30" x2="332.10" y2="454.20" stroke="#1a1a1a" stroke-width="0.9"/>
<line x1="332.10" y1="253.90" x2="332.10" y2="260.00" stroke="#1a1a1a" stroke-width="0.9"/>
<line x1="55.84" y1="460.30" x2="55.84" y2="456.90" stroke="#1a1a1a" stroke-width="0.9"/>
<line x1="55.84" y1="253.90" x2="55.84" y2="257.30" stroke="#1a1a1a" stroke-width="0.9"/>
<line x1="84.92" y1="460.30" x2="84.92" y2="456.90" stroke="#1a1a1a" stroke-width="0.9"/>
<line x1="84.92" y1="253.90" x2="84.92" y2="257.30" stroke="#1a1a1a" stroke-width="0.9"/>
<line x1="114.00" y1="460.30" x2="114.00" y2="456.90" stroke="#1a1a1a" stroke-width="0.9"/>
<line x1="114.00" y1="253.90" x2="114.00" y2="257.30" stroke="#1a1a1a" stroke-width="0.9"/>
<line x1="143.08" y1="460.30" x2="143.08" y2="456.90" stroke="#1a1a1a" stroke-width="0.9"/>
<line x1="143.08" y1="253.90" x2="143.08" y2="257.30" stroke="#1a1a1a" stroke-width="0.9"/>
<line x1="172.16" y1="460.30" x2="172.16" y2="456.90" stroke="#1a1a1a" stroke-width="0.9"/>
<line x1="172.16" y1="253.90" x2="172.16" y2="257.30" stroke="#1a1a1a" stroke-width="0.9"/>
<line x1="201.24" y1="460.30" x2="201.24" y2="456.90" stroke="#1a1a1a" stroke-width="0.9"/>
<line x1="201.24" y1="253.90" x2="201.24" y2="257.30" stroke="#1a1a1a" stroke-width="0.9"/>
<line x1="230.32" y1="460.30" x2="230.32" y2="456.90" stroke="#1a1a1a" stroke-width="0.9"/>
<line x1="230.32" y1="253.90" x2="230.32" y2="257.30" stroke="#1a1a1a" stroke-width="0.9"/>
<line x1="259.40" y1="460.30" x2="259.40" y2="456.90" stroke="#1a1a1a" stroke-width="0.9"/>
<line x1="259.40" y1="253.90" x2="259.40" y2="257.30" stroke="#1a1a1a" stroke-width="0.9"/>
<line x1="288.48" y1="460.30" x2="288.48" y2="456.90" stroke="#1a1a1a" stroke-width="0.9"/>
<line x1="288.48" y1="253.90" x2="288.48" y2="257.30" stroke="#1a1a1a" stroke-width="0.9"/>
<line x1="317.56" y1="460.30" x2="317.56" y2="456.90" stroke="#1a1a1a" stroke-width="0.9"/>
<line x1="317.56" y1="253.90" x2="317.56" y2="257.30" stroke="#1a1a1a" stroke-width="0.9"/>
<line x1="41.30" y1="460.30" x2="47.40" y2="460.30" stroke="#1a1a1a" stroke-width="0.9"/>
<line x1="332.10" y1="460.30" x2="326.00" y2="460.30" stroke="#1a1a1a" stroke-width="0.9"/>
<line x1="41.30" y1="434.50" x2="47.40" y2="434.50" stroke="#1a1a1a" stroke-width="0.9"/>
<line x1="332.10" y1="434.50" x2="326.00" y2="434.50" stroke="#1a1a1a" stroke-width="0.9"/>
<line x1="41.30" y1="408.70" x2="47.40" y2="408.70" stroke="#1a1a1a" stroke-width="0.9"/>
<line x1="332.10" y1="408.70" x2="326.00" y2="408.70" stroke="#1a1a1a" stroke-width="0.9"/>
<line x1="41.30" y1="382.90" x2="47.40" y2="382.90" stroke="#1a1a1a" stroke-width="0.9"/>
<line x1="332.10" y1="382.90" x2="326.00" y2="382.90" stroke="#1a1a1a" stroke-width="0.9"/>
<line x1="41.30" y1="357.10" x2="47.40" y2="357.10" stroke="#1a1a1a" stroke-width="0.9"/>
<line x1="332.10" y1="357.10" x2="326.00" y2="357.10" stroke="#1a1a1a" stroke-width="0.9"/>
<line x1="41.30" y1="331.30" x2="47.40" y2="331.30" stroke="#1a1a1a" stroke-width="0.9"/>
<line x1="332.10" y1="331.30" x2="326.00" y2="331.30" stroke="#1a1a1a" stroke-width="0.9"/>
<line x1="41.30" y1="305.50" x2="47.40" y2="305.50" stroke="#1a1a1a" stroke-width="0.9"/>
<line x1="332.10" y1="305.50" x2="326.00" y2="305.50" stroke="#1a1a1a" stroke-width="0.9"/>
<line x1="41.30" y1="279.70" x2="47.40" y2="279.70" stroke="#1a1a1a" stroke-width="0.9"/>
<line x1="332.10" y1="279.70" x2="326.00" y2="279.70" stroke="#1a1a1a" stroke-width="0.9"/>
<line x1="41.30" y1="253.90" x2="47.40" y2="253.90" stroke="#1a1a1a" stroke-width="0.9"/>
<line x1="332.10" y1="253.90" x2="326.00" y2="253.90" stroke="#1a1a1a" stroke-width="0.9"/>
<line x1="41.30" y1="447.40" x2="44.70" y2="447.40" stroke="#1a1a1a" stroke-width="0.9"/>
<line x1="332.10" y1="447.40" x2="328.70" y2="447.40" stroke="#1a1a1a" stroke-width="0.9"/>
<line x1="41.30" y1="421.60" x2="44.70" y2="421.60" stroke="#1a1a1a" stroke-width="0.9"/>
<line x1="332.10" y1="421.60" x2="328.70" y2="421.60" stroke="#1a1a1a" stroke-width="0.9"/>
<line x1="41.30" y1="395.80" x2="44.70" y2="395.80" stroke="#1a1a1a" stroke-width="0.9"/>
<line x1="332.10" y1="395.80" x2="328.70" y2="395.80" stroke="#1a1a1a" stroke-width="0.9"/>
<line x1="41.30" y1="370.00" x2="44.70" y2="370.00" stroke="#1a1a1a" stroke-width="0.9"/>
<line x1="332.10" y1="370.00" x2="328.70" y2="370.00" stroke="#1a1a1a" stroke-width="0.9"/>
<line x1="41.30" y1="344.20" x2="44.70" y2="344.20" stroke="#1a1a1a" stroke-width="0.9"/>
<line x1="332.10" y1="344.20" x2="328.70" y2="344.20" stroke="#1a1a1a" stroke-width="0.9"/>
<line x1="41.30" y1="318.40" x2="44.70" y2="318.40" stroke="#1a1a1a" stroke-width="0.9"/>
<line x1="332.10" y1="318.40" x2="328.70" y2="318.40" stroke="#1a1a1a" stroke-width="0.9"/>
<line x1="41.30" y1="292.60" x2="44.70" y2="292.60" stroke="#1a1a1a" stroke-width="0.9"/>
<line x1="332.10" y1="292.60" x2="328.70" y2="292.60" stroke="#1a1a1a" stroke-width="0.9"/>
<line x1="41.30" y1="266.80" x2="44.70" y2="266.80" stroke="#1a1a1a" stroke-width="0.9"/>
<line x1="332.10" y1="266.80" x2="328.70" y2="266.80" stroke="#1a1a1a" stroke-width="0.9"/>
<rect x="41.3" y="253.9" width="290.8" height="206.4" fill="none" stroke="#1a1a1a" stroke-width="1.2"/>
<text class="sa" transform="translate(41.60,472.90) scale(0.97,1)" font-size="12.8" text-anchor="middle" fill="#000">0</text>
<text class="sa" transform="translate(70.68,472.90) scale(0.97,1)" font-size="12.8" text-anchor="middle" fill="#000">0.2</text>
<text class="sa" transform="translate(99.76,472.90) scale(0.97,1)" font-size="12.8" text-anchor="middle" fill="#000">0.4</text>
<text class="sa" transform="translate(128.84,472.90) scale(0.97,1)" font-size="12.8" text-anchor="middle" fill="#000">0.6</text>
<text class="sa" transform="translate(157.92,472.90) scale(0.97,1)" font-size="12.8" text-anchor="middle" fill="#000">0.8</text>
<text class="sa" transform="translate(187.00,472.90) scale(0.97,1)" font-size="12.8" text-anchor="middle" fill="#000">1</text>
<text class="sa" transform="translate(216.08,472.90) scale(0.97,1)" font-size="12.8" text-anchor="middle" fill="#000">1.2</text>
<text class="sa" transform="translate(245.16,472.90) scale(0.97,1)" font-size="12.8" text-anchor="middle" fill="#000">1.4</text>
<text class="sa" transform="translate(274.24,472.90) scale(0.97,1)" font-size="12.8" text-anchor="middle" fill="#000">1.6</text>
<text class="sa" transform="translate(303.32,472.90) scale(0.97,1)" font-size="12.8" text-anchor="middle" fill="#000">1.8</text>
<text class="sa" transform="translate(332.40,472.90) scale(0.97,1)" font-size="12.8" text-anchor="middle" fill="#000">2</text>
<text class="sa" transform="translate(39.30,465.01) scale(0.97,1)" font-size="12.8" text-anchor="end" fill="#000">0</text>
<text class="sa" transform="translate(39.30,439.21) scale(0.97,1)" font-size="12.8" text-anchor="end" fill="#000">100</text>
<text class="sa" transform="translate(39.30,413.41) scale(0.97,1)" font-size="12.8" text-anchor="end" fill="#000">200</text>
<text class="sa" transform="translate(39.30,387.61) scale(0.97,1)" font-size="12.8" text-anchor="end" fill="#000">300</text>
<text class="sa" transform="translate(39.30,361.81) scale(0.97,1)" font-size="12.8" text-anchor="end" fill="#000">400</text>
<text class="sa" transform="translate(39.30,336.01) scale(0.97,1)" font-size="12.8" text-anchor="end" fill="#000">500</text>
<text class="sa" transform="translate(39.30,310.21) scale(0.97,1)" font-size="12.8" text-anchor="end" fill="#000">600</text>
<text class="sa" transform="translate(39.30,284.41) scale(0.97,1)" font-size="12.8" text-anchor="end" fill="#000">700</text>
<text class="sa" transform="translate(39.30,258.61) scale(0.97,1)" font-size="12.8" text-anchor="end" fill="#000">800</text>
<text class="sa" transform="translate(186.70,485.80)" font-size="14.4" text-anchor="middle" fill="#000">Energy (eV)</text>
<text class="sa" transform="translate(11.80,357.70) rotate(-90)" font-size="14.4" text-anchor="middle" fill="#000">Thermal conductivity (W/m/K)</text>
<text class="se" transform="translate(61.00,276.40)" font-size="16.1" text-anchor="start" fill="#000">(b1)</text>
<rect x="186.6" y="369.4" width="136.20000000000002" height="78.90000000000003" fill="#ffffff" stroke="#1a1a1a" stroke-width="1.1"/>
<line x1="190.00" y1="376.70" x2="202.50" y2="376.70" stroke="#ff00ff" stroke-width="1.9"/>
<text class="sa" transform="translate(208.50,380.13)" font-size="10.4" text-anchor="start" fill="#000">Be 2.05 g/cc 64 atoms</text>
<line x1="190.00" y1="389.20" x2="202.50" y2="389.20" stroke="#ffa500" stroke-width="1.4"/>
<text class="sa" transform="translate(208.50,392.63)" font-size="10.4" text-anchor="start" fill="#000">Be 2.05 g/cc 128 atoms</text>
<line x1="190.00" y1="401.80" x2="202.50" y2="401.80" stroke="#ff0000" stroke-width="1.6"/>
<text class="sa" transform="translate(208.50,405.23)" font-size="10.4" text-anchor="start" fill="#000">Be 2.05 g/cc 512 atoms</text>
<line x1="190.00" y1="414.40" x2="202.50" y2="414.40" stroke="#9400d3" stroke-width="1.9"/>
<text class="sa" transform="translate(208.50,417.83)" font-size="10.4" text-anchor="start" fill="#000">CH 0.95 g/cc 59 atoms</text>
<line x1="190.00" y1="427.00" x2="202.50" y2="427.00" stroke="#1a00ff" stroke-width="1.4"/>
<text class="sa" transform="translate(208.50,430.43)" font-size="10.4" text-anchor="start" fill="#000">CH 0.95 g/cc 118 atoms</text>
<line x1="190.00" y1="439.70" x2="202.50" y2="439.70" stroke="#000000" stroke-width="1.6"/>
<text class="sa" transform="translate(208.50,443.13)" font-size="10.4" text-anchor="start" fill="#000">CH 0.95 g/cc 472 atoms</text>
<path d="M388.30,355.87 C388.31,355.83 388.31,355.69 388.34,355.60 C388.36,355.50 388.40,355.40 388.45,355.29 C388.49,355.19 388.56,355.08 388.63,354.97 C388.70,354.85 388.79,354.74 388.88,354.63 C388.98,354.52 389.09,354.40 389.21,354.29 C389.34,354.19 389.47,354.08 389.62,353.97 C389.76,353.87 389.92,353.77 390.09,353.68 C390.26,353.58 390.44,353.49 390.64,353.42 C390.83,353.34 391.04,353.26 391.26,353.20 C391.48,353.14 391.71,353.09 391.95,353.05 C392.20,353.01 392.45,352.97 392.72,352.96 C392.99,352.94 393.27,352.94 393.56,352.95 C393.86,352.97 394.16,353.00 394.48,353.04 C394.79,353.09 395.12,353.15 395.46,353.22 C395.80,353.30 396.16,353.39 396.52,353.50 C396.89,353.60 397.27,353.73 397.66,353.86 C398.05,354.00 398.45,354.15 398.86,354.31 C399.28,354.48 399.70,354.65 400.14,354.84 C400.58,355.03 401.03,355.24 401.49,355.45 C401.96,355.67 402.43,355.90 402.92,356.14 C403.41,356.38 403.91,356.63 404.42,356.90 C404.93,357.16 405.45,357.44 405.99,357.72 C406.53,358.01 407.07,358.31 407.63,358.61 C408.19,358.92 408.77,359.24 409.35,359.56 C409.94,359.89 410.53,360.23 411.14,360.57 C411.75,360.92 412.37,361.27 413.01,361.64 C413.64,362.00 414.29,362.37 414.94,362.75 C415.60,363.13 416.27,363.52 416.95,363.91 C417.64,364.31 418.33,364.71 419.04,365.12 C419.74,365.53 420.46,365.94 421.19,366.37 C421.92,366.79 422.67,367.22 423.42,367.65 C424.18,368.08 424.95,368.52 425.73,368.96 C426.51,369.41 427.30,369.86 428.10,370.31 C428.91,370.76 429.72,371.22 430.55,371.68 C431.38,372.14 432.22,372.61 433.07,373.08 C433.92,373.54 434.79,374.01 435.67,374.49 C436.54,374.96 437.43,375.44 438.33,375.92 C439.24,376.39 440.15,376.87 441.08,377.36 C442.00,377.84 442.94,378.32 443.89,378.80 C444.84,379.29 445.80,379.77 446.78,380.26 C447.75,380.74 448.74,381.22 449.74,381.71 C450.74,382.19 451.75,382.68 452.77,383.16 C453.79,383.64 454.83,384.12 455.88,384.60 C456.93,385.08 457.99,385.56 459.06,386.04 C460.13,386.51 461.21,386.99 462.31,387.46 C463.41,387.93 464.52,388.40 465.64,388.86 C466.76,389.33 467.89,389.79 469.04,390.25 C470.18,390.70 471.34,391.16 472.51,391.61 C473.68,392.05 474.86,392.50 476.05,392.94 C477.25,393.38 478.45,393.81 479.67,394.24 C480.89,394.66 482.12,395.09 483.36,395.50 C484.61,395.92 485.86,396.33 487.13,396.73 C488.39,397.13 489.67,397.53 490.96,397.92 C492.26,398.31 493.56,398.69 494.88,399.07 C496.19,399.45 497.52,399.82 498.86,400.19 C500.20,400.55 501.55,400.92 502.92,401.28 C504.28,401.63 505.66,401.99 507.05,402.34 C508.43,402.69 509.84,403.03 511.25,403.38 C512.66,403.72 514.09,404.06 515.53,404.40 C516.96,404.73 518.41,405.07 519.87,405.40 C521.34,405.73 522.81,406.06 524.30,406.39 C525.78,406.72 527.28,407.05 528.79,407.37 C530.30,407.70 531.83,408.02 533.36,408.35 C534.90,408.67 536.44,408.99 538.00,409.32 C539.56,409.64 541.13,409.97 542.72,410.29 C544.30,410.61 545.90,410.94 547.50,411.26 C549.11,411.58 550.73,411.90 552.37,412.22 C554.00,412.55 555.64,412.87 557.30,413.19 C558.96,413.51 560.63,413.82 562.31,414.14 C563.99,414.46 565.68,414.77 567.39,415.08 C569.09,415.40 570.81,415.71 572.54,416.02 C574.27,416.33 576.01,416.63 577.77,416.94 C579.52,417.24 581.29,417.55 583.07,417.85 C584.85,418.14 586.64,418.44 588.44,418.73 C590.24,419.03 592.06,419.32 593.88,419.61 C595.71,419.89 597.55,420.18 599.40,420.46 C601.26,420.74 603.12,421.02 605.00,421.29 C606.87,421.57 608.76,421.84 610.66,422.11 C612.56,422.38 614.47,422.64 616.40,422.90 C618.32,423.17 620.26,423.43 622.21,423.68 C624.16,423.94 626.12,424.19 628.09,424.44 C630.07,424.69 632.05,424.94 634.05,425.18 C636.05,425.43 638.06,425.67 640.08,425.91 C642.10,426.14 644.14,426.38 646.19,426.61 C648.23,426.84 650.29,427.07 652.36,427.30 C654.43,427.52 656.52,427.74 658.61,427.96 C660.71,428.18 662.82,428.40 664.93,428.61 C667.05,428.83 669.19,429.04 671.33,429.24 C673.48,429.45 676.72,429.75 677.80,429.85" fill="none" stroke="#ffa500" stroke-width="1.5" stroke-linejoin="round" opacity="1.0" clip-path="url(#cb2)"/>
<path d="M388.30,321.27 C388.31,321.23 388.31,321.09 388.34,320.99 C388.36,320.89 388.40,320.79 388.45,320.69 C388.49,320.59 388.56,320.49 388.63,320.39 C388.70,320.29 388.79,320.19 388.88,320.09 C388.98,319.98 389.09,319.88 389.21,319.78 C389.34,319.68 389.47,319.58 389.62,319.48 C389.76,319.38 389.92,319.28 390.09,319.18 C390.26,319.09 390.44,318.99 390.64,318.90 C390.83,318.80 391.04,318.71 391.26,318.62 C391.48,318.54 391.71,318.45 391.95,318.37 C392.20,318.28 392.45,318.20 392.72,318.13 C392.99,318.05 393.27,317.98 393.56,317.91 C393.86,317.85 394.16,317.78 394.48,317.72 C394.79,317.67 395.12,317.61 395.46,317.56 C395.80,317.52 396.16,317.47 396.52,317.44 C396.89,317.40 397.27,317.37 397.66,317.35 C398.05,317.33 398.45,317.31 398.86,317.31 C399.28,317.30 399.70,317.31 400.14,317.32 C400.58,317.33 401.03,317.35 401.49,317.39 C401.96,317.42 402.43,317.46 402.92,317.52 C403.41,317.58 403.91,317.65 404.42,317.73 C404.93,317.81 405.45,317.90 405.99,318.01 C406.53,318.12 407.07,318.24 407.63,318.38 C408.19,318.52 408.77,318.67 409.35,318.84 C409.94,319.01 410.53,319.19 411.14,319.39 C411.75,319.59 412.37,319.81 413.01,320.05 C413.64,320.28 414.29,320.53 414.94,320.80 C415.60,321.06 416.27,321.34 416.95,321.64 C417.64,321.93 418.33,322.24 419.04,322.56 C419.74,322.88 420.46,323.22 421.19,323.57 C421.92,323.92 422.67,324.28 423.42,324.65 C424.18,325.02 424.95,325.41 425.73,325.81 C426.51,326.20 427.30,326.61 428.10,327.03 C428.91,327.45 429.72,327.88 430.55,328.32 C431.38,328.76 432.22,329.21 433.07,329.66 C433.92,330.12 434.79,330.59 435.67,331.06 C436.54,331.54 437.43,332.02 438.33,332.51 C439.24,333.00 440.15,333.50 441.08,334.01 C442.00,334.51 442.94,335.03 443.89,335.54 C444.84,336.06 445.80,336.59 446.78,337.12 C447.75,337.65 448.74,338.18 449.74,338.72 C450.74,339.26 451.75,339.80 452.77,340.35 C453.79,340.90 454.83,341.45 455.88,342.01 C456.93,342.56 457.99,343.12 459.06,343.68 C460.13,344.24 461.21,344.80 462.31,345.37 C463.41,345.94 464.52,346.50 465.64,347.07 C466.76,347.64 467.89,348.22 469.04,348.79 C470.18,349.36 471.34,349.94 472.51,350.52 C473.68,351.09 474.86,351.67 476.05,352.25 C477.25,352.83 478.45,353.41 479.67,353.99 C480.89,354.57 482.12,355.15 483.36,355.73 C484.61,356.31 485.86,356.89 487.13,357.47 C488.39,358.05 489.67,358.63 490.96,359.21 C492.26,359.79 493.56,360.37 494.88,360.95 C496.19,361.53 497.52,362.11 498.86,362.68 C500.20,363.26 501.55,363.84 502.92,364.41 C504.28,364.98 505.66,365.55 507.05,366.12 C508.43,366.69 509.84,367.26 511.25,367.83 C512.66,368.40 514.09,368.96 515.53,369.52 C516.96,370.09 518.41,370.65 519.87,371.21 C521.34,371.77 522.81,372.32 524.30,372.88 C525.78,373.43 527.28,373.99 528.79,374.54 C530.30,375.09 531.83,375.64 533.36,376.18 C534.90,376.73 536.44,377.27 538.00,377.82 C539.56,378.36 541.13,378.90 542.72,379.44 C544.30,379.97 545.90,380.51 547.50,381.04 C549.11,381.57 550.73,382.10 552.37,382.63 C554.00,383.16 555.64,383.69 557.30,384.21 C558.96,384.73 560.63,385.25 562.31,385.77 C563.99,386.28 565.68,386.80 567.39,387.31 C569.09,387.82 570.81,388.33 572.54,388.84 C574.27,389.34 576.01,389.85 577.77,390.35 C579.52,390.85 581.29,391.34 583.07,391.84 C584.85,392.33 586.64,392.82 588.44,393.31 C590.24,393.80 592.06,394.28 593.88,394.77 C595.71,395.25 597.55,395.73 599.40,396.20 C601.26,396.68 603.12,397.15 605.00,397.62 C606.87,398.08 608.76,398.55 610.66,399.01 C612.56,399.47 614.47,399.93 616.40,400.38 C618.32,400.84 620.26,401.29 622.21,401.74 C624.16,402.18 626.12,402.63 628.09,403.07 C630.07,403.51 632.05,403.94 634.05,404.38 C636.05,404.81 638.06,405.24 640.08,405.66 C642.10,406.09 644.14,406.51 646.19,406.92 C648.23,407.34 650.29,407.75 652.36,408.16 C654.43,408.57 656.52,408.98 658.61,409.38 C660.71,409.78 662.82,410.17 664.93,410.56 C667.05,410.96 669.19,411.35 671.33,411.73 C673.48,412.11 676.72,412.68 677.80,412.87" fill="none" stroke="#ff0000" stroke-width="1.55" stroke-linejoin="round" opacity="1.0" clip-path="url(#cb2)"/>
<path d="M388.30,395.63 C388.31,395.57 388.31,395.43 388.34,395.31 C388.36,395.19 388.40,395.07 388.45,394.93 C388.49,394.79 388.56,394.64 388.63,394.49 C388.70,394.34 388.79,394.17 388.88,394.01 C388.98,393.84 389.09,393.66 389.21,393.49 C389.34,393.31 389.47,393.12 389.62,392.94 C389.76,392.75 389.92,392.56 390.09,392.37 C390.26,392.18 390.44,391.99 390.64,391.80 C390.83,391.61 391.04,391.42 391.26,391.23 C391.48,391.04 391.71,390.85 391.95,390.67 C392.20,390.49 392.45,390.31 392.72,390.13 C392.99,389.96 393.27,389.79 393.56,389.62 C393.86,389.46 394.16,389.30 394.48,389.14 C394.79,388.98 395.12,388.83 395.46,388.68 C395.80,388.52 396.16,388.38 396.52,388.23 C396.89,388.09 397.27,387.95 397.66,387.81 C398.05,387.67 398.45,387.53 398.86,387.40 C399.28,387.26 399.70,387.13 400.14,387.00 C400.58,386.86 401.03,386.73 401.49,386.61 C401.96,386.48 402.43,386.35 402.92,386.22 C403.41,386.09 403.91,385.97 404.42,385.84 C404.93,385.71 405.45,385.58 405.99,385.46 C406.53,385.33 407.07,385.20 407.63,385.08 C408.19,384.95 408.77,384.82 409.35,384.70 C409.94,384.57 410.53,384.45 411.14,384.32 C411.75,384.20 412.37,384.07 413.01,383.95 C413.64,383.83 414.29,383.71 414.94,383.59 C415.60,383.47 416.27,383.35 416.95,383.24 C417.64,383.12 418.33,383.01 419.04,382.90 C419.74,382.78 420.46,382.67 421.19,382.57 C421.92,382.46 422.67,382.36 423.42,382.26 C424.18,382.16 424.95,382.06 425.73,381.96 C426.51,381.87 427.30,381.78 428.10,381.69 C428.91,381.60 429.72,381.52 430.55,381.44 C431.38,381.36 432.22,381.29 433.07,381.21 C433.92,381.14 434.79,381.08 435.67,381.01 C436.54,380.95 437.43,380.89 438.33,380.84 C439.24,380.79 440.15,380.74 441.08,380.70 C442.00,380.66 442.94,380.62 443.89,380.59 C444.84,380.56 445.80,380.53 446.78,380.51 C447.75,380.49 448.74,380.48 449.74,380.47 C450.74,380.46 451.75,380.46 452.77,380.47 C453.79,380.48 454.83,380.49 455.88,380.51 C456.93,380.53 457.99,380.56 459.06,380.59 C460.13,380.62 461.21,380.67 462.31,380.72 C463.41,380.76 464.52,380.82 465.64,380.89 C466.76,380.95 467.89,381.03 469.04,381.11 C470.18,381.19 471.34,381.28 472.51,381.38 C473.68,381.48 474.86,381.58 476.05,381.70 C477.25,381.81 478.45,381.93 479.67,382.06 C480.89,382.19 482.12,382.33 483.36,382.47 C484.61,382.61 485.86,382.76 487.13,382.92 C488.39,383.08 489.67,383.24 490.96,383.41 C492.26,383.58 493.56,383.76 494.88,383.95 C496.19,384.13 497.52,384.32 498.86,384.52 C500.20,384.71 501.55,384.92 502.92,385.13 C504.28,385.33 505.66,385.55 507.05,385.77 C508.43,385.99 509.84,386.21 511.25,386.44 C512.66,386.68 514.09,386.91 515.53,387.15 C516.96,387.39 518.41,387.64 519.87,387.89 C521.34,388.14 522.81,388.40 524.30,388.65 C525.78,388.91 527.28,389.18 528.79,389.45 C530.30,389.72 531.83,389.99 533.36,390.26 C534.90,390.54 536.44,390.82 538.00,391.11 C539.56,391.39 541.13,391.68 542.72,391.97 C544.30,392.26 545.90,392.55 547.50,392.85 C549.11,393.15 550.73,393.45 552.37,393.75 C554.00,394.05 555.64,394.36 557.30,394.67 C558.96,394.98 560.63,395.29 562.31,395.60 C563.99,395.91 565.68,396.23 567.39,396.55 C569.09,396.86 570.81,397.18 572.54,397.51 C574.27,397.83 576.01,398.15 577.77,398.47 C579.52,398.80 581.29,399.12 583.07,399.45 C584.85,399.78 586.64,400.11 588.44,400.44 C590.24,400.76 592.06,401.09 593.88,401.42 C595.71,401.75 597.55,402.09 599.40,402.42 C601.26,402.75 603.12,403.08 605.00,403.41 C606.87,403.74 608.76,404.08 610.66,404.41 C612.56,404.74 614.47,405.07 616.40,405.40 C618.32,405.73 620.26,406.06 622.21,406.39 C624.16,406.72 626.12,407.05 628.09,407.38 C630.07,407.71 632.05,408.03 634.05,408.36 C636.05,408.69 638.06,409.01 640.08,409.33 C642.10,409.65 644.14,409.98 646.19,410.30 C648.23,410.61 650.29,410.93 652.36,411.25 C654.43,411.56 656.52,411.88 658.61,412.19 C660.71,412.50 662.82,412.81 664.93,413.11 C667.05,413.42 669.19,413.72 671.33,414.02 C673.48,414.32 676.72,414.76 677.80,414.91" fill="none" stroke="#a020f0" stroke-width="1.5" stroke-linejoin="round" opacity="1.0" clip-path="url(#cb2)"/>
<path d="M388.30,343.83 C388.31,343.78 388.31,343.67 388.34,343.52 C388.36,343.37 388.40,343.16 388.45,342.91 C388.49,342.67 388.56,342.38 388.63,342.06 C388.70,341.74 388.79,341.38 388.88,341.01 C388.98,340.64 389.09,340.23 389.21,339.82 C389.34,339.41 389.47,338.98 389.62,338.55 C389.76,338.12 389.92,337.68 390.09,337.25 C390.26,336.82 390.44,336.40 390.64,335.98 C390.83,335.56 391.04,335.15 391.26,334.75 C391.48,334.34 391.71,333.95 391.95,333.55 C392.20,333.16 392.45,332.77 392.72,332.39 C392.99,332.01 393.27,331.63 393.56,331.25 C393.86,330.88 394.16,330.50 394.48,330.13 C394.79,329.76 395.12,329.40 395.46,329.03 C395.80,328.66 396.16,328.30 396.52,327.93 C396.89,327.57 397.27,327.21 397.66,326.85 C398.05,326.49 398.45,326.13 398.86,325.78 C399.28,325.43 399.70,325.08 400.14,324.74 C400.58,324.39 401.03,324.05 401.49,323.72 C401.96,323.39 402.43,323.06 402.92,322.73 C403.41,322.41 403.91,322.09 404.42,321.78 C404.93,321.47 405.45,321.17 405.99,320.87 C406.53,320.58 407.07,320.29 407.63,320.01 C408.19,319.73 408.77,319.46 409.35,319.19 C409.94,318.93 410.53,318.68 411.14,318.43 C411.75,318.19 412.37,317.95 413.01,317.73 C413.64,317.51 414.29,317.29 414.94,317.09 C415.60,316.89 416.27,316.70 416.95,316.52 C417.64,316.35 418.33,316.18 419.04,316.03 C419.74,315.88 420.46,315.74 421.19,315.61 C421.92,315.48 422.67,315.36 423.42,315.26 C424.18,315.16 424.95,315.07 425.73,314.99 C426.51,314.91 427.30,314.85 428.10,314.80 C428.91,314.74 429.72,314.71 430.55,314.68 C431.38,314.65 432.22,314.64 433.07,314.63 C433.92,314.63 434.79,314.64 435.67,314.67 C436.54,314.69 437.43,314.73 438.33,314.78 C439.24,314.82 440.15,314.89 441.08,314.96 C442.00,315.03 442.94,315.12 443.89,315.22 C444.84,315.32 445.80,315.43 446.78,315.56 C447.75,315.68 448.74,315.82 449.74,315.97 C450.74,316.12 451.75,316.28 452.77,316.46 C453.79,316.63 454.83,316.82 455.88,317.02 C456.93,317.22 457.99,317.44 459.06,317.67 C460.13,317.89 461.21,318.13 462.31,318.38 C463.41,318.64 464.52,318.90 465.64,319.18 C466.76,319.46 467.89,319.75 469.04,320.05 C470.18,320.35 471.34,320.67 472.51,321.00 C473.68,321.33 474.86,321.67 476.05,322.03 C477.25,322.38 478.45,322.75 479.67,323.13 C480.89,323.51 482.12,323.90 483.36,324.31 C484.61,324.71 485.86,325.13 487.13,325.57 C488.39,326.00 489.67,326.44 490.96,326.90 C492.26,327.36 493.56,327.83 494.88,328.31 C496.19,328.80 497.52,329.29 498.86,329.80 C500.20,330.31 501.55,330.83 502.92,331.36 C504.28,331.89 505.66,332.43 507.05,332.98 C508.43,333.53 509.84,334.09 511.25,334.66 C512.66,335.23 514.09,335.80 515.53,336.39 C516.96,336.98 518.41,337.57 519.87,338.17 C521.34,338.77 522.81,339.38 524.30,339.99 C525.78,340.61 527.28,341.23 528.79,341.85 C530.30,342.48 531.83,343.11 533.36,343.74 C534.90,344.38 536.44,345.02 538.00,345.66 C539.56,346.30 541.13,346.95 542.72,347.60 C544.30,348.25 545.90,348.90 547.50,349.56 C549.11,350.22 550.73,350.88 552.37,351.55 C554.00,352.22 555.64,352.90 557.30,353.58 C558.96,354.27 560.63,354.95 562.31,355.65 C563.99,356.35 565.68,357.06 567.39,357.76 C569.09,358.47 570.81,359.19 572.54,359.91 C574.27,360.62 576.01,361.34 577.77,362.06 C579.52,362.77 581.29,363.49 583.07,364.19 C584.85,364.90 586.64,365.60 588.44,366.29 C590.24,366.99 592.06,367.67 593.88,368.34 C595.71,369.02 597.55,369.69 599.40,370.34 C601.26,371.00 603.12,371.65 605.00,372.30 C606.87,372.94 608.76,373.58 610.66,374.21 C612.56,374.84 614.47,375.47 616.40,376.09 C618.32,376.71 620.26,377.32 622.21,377.93 C624.16,378.55 626.12,379.15 628.09,379.76 C630.07,380.36 632.05,380.96 634.05,381.56 C636.05,382.15 638.06,382.75 640.08,383.34 C642.10,383.94 644.14,384.53 646.19,385.12 C648.23,385.71 650.29,386.30 652.36,386.89 C654.43,387.48 656.52,388.07 658.61,388.66 C660.71,389.25 662.82,389.84 664.93,390.43 C667.05,391.03 669.19,391.62 671.33,392.22 C673.48,392.81 676.72,393.72 677.80,394.02" fill="none" stroke="#0000ff" stroke-width="1.55" stroke-linejoin="round" opacity="1.0" clip-path="url(#cb2)"/>
<line x1="387.70" y1="460.30" x2="387.70" y2="454.30" stroke="#1a1a1a" stroke-width="0.6"/>
<line x1="387.70" y1="254.00" x2="387.70" y2="260.00" stroke="#1a1a1a" stroke-width="0.6"/>
<line x1="416.73" y1="460.30" x2="416.73" y2="454.30" stroke="#1a1a1a" stroke-width="0.6"/>
<line x1="416.73" y1="254.00" x2="416.73" y2="260.00" stroke="#1a1a1a" stroke-width="0.6"/>
<line x1="445.76" y1="460.30" x2="445.76" y2="454.30" stroke="#1a1a1a" stroke-width="0.6"/>
<line x1="445.76" y1="254.00" x2="445.76" y2="260.00" stroke="#1a1a1a" stroke-width="0.6"/>
<line x1="474.79" y1="460.30" x2="474.79" y2="454.30" stroke="#1a1a1a" stroke-width="0.6"/>
<line x1="474.79" y1="254.00" x2="474.79" y2="260.00" stroke="#1a1a1a" stroke-width="0.6"/>
<line x1="503.82" y1="460.30" x2="503.82" y2="454.30" stroke="#1a1a1a" stroke-width="0.6"/>
<line x1="503.82" y1="254.00" x2="503.82" y2="260.00" stroke="#1a1a1a" stroke-width="0.6"/>
<line x1="532.85" y1="460.30" x2="532.85" y2="454.30" stroke="#1a1a1a" stroke-width="0.6"/>
<line x1="532.85" y1="254.00" x2="532.85" y2="260.00" stroke="#1a1a1a" stroke-width="0.6"/>
<line x1="561.88" y1="460.30" x2="561.88" y2="454.30" stroke="#1a1a1a" stroke-width="0.6"/>
<line x1="561.88" y1="254.00" x2="561.88" y2="260.00" stroke="#1a1a1a" stroke-width="0.6"/>
<line x1="590.91" y1="460.30" x2="590.91" y2="454.30" stroke="#1a1a1a" stroke-width="0.6"/>
<line x1="590.91" y1="254.00" x2="590.91" y2="260.00" stroke="#1a1a1a" stroke-width="0.6"/>
<line x1="619.94" y1="460.30" x2="619.94" y2="454.30" stroke="#1a1a1a" stroke-width="0.6"/>
<line x1="619.94" y1="254.00" x2="619.94" y2="260.00" stroke="#1a1a1a" stroke-width="0.6"/>
<line x1="648.97" y1="460.30" x2="648.97" y2="454.30" stroke="#1a1a1a" stroke-width="0.6"/>
<line x1="648.97" y1="254.00" x2="648.97" y2="260.00" stroke="#1a1a1a" stroke-width="0.6"/>
<line x1="678.00" y1="460.30" x2="678.00" y2="454.30" stroke="#1a1a1a" stroke-width="0.6"/>
<line x1="678.00" y1="254.00" x2="678.00" y2="260.00" stroke="#1a1a1a" stroke-width="0.6"/>
<line x1="393.51" y1="460.30" x2="393.51" y2="457.30" stroke="#1a1a1a" stroke-width="0.6"/>
<line x1="393.51" y1="254.00" x2="393.51" y2="257.00" stroke="#1a1a1a" stroke-width="0.6"/>
<line x1="399.31" y1="460.30" x2="399.31" y2="457.30" stroke="#1a1a1a" stroke-width="0.6"/>
<line x1="399.31" y1="254.00" x2="399.31" y2="257.00" stroke="#1a1a1a" stroke-width="0.6"/>
<line x1="405.12" y1="460.30" x2="405.12" y2="457.30" stroke="#1a1a1a" stroke-width="0.6"/>
<line x1="405.12" y1="254.00" x2="405.12" y2="257.00" stroke="#1a1a1a" stroke-width="0.6"/>
<line x1="410.92" y1="460.30" x2="410.92" y2="457.30" stroke="#1a1a1a" stroke-width="0.6"/>
<line x1="410.92" y1="254.00" x2="410.92" y2="257.00" stroke="#1a1a1a" stroke-width="0.6"/>
<line x1="422.54" y1="460.30" x2="422.54" y2="457.30" stroke="#1a1a1a" stroke-width="0.6"/>
<line x1="422.54" y1="254.00" x2="422.54" y2="257.00" stroke="#1a1a1a" stroke-width="0.6"/>
<line x1="428.34" y1="460.30" x2="428.34" y2="457.30" stroke="#1a1a1a" stroke-width="0.6"/>
<line x1="428.34" y1="254.00" x2="428.34" y2="257.00" stroke="#1a1a1a" stroke-width="0.6"/>
<line x1="434.15" y1="460.30" x2="434.15" y2="457.30" stroke="#1a1a1a" stroke-width="0.6"/>
<line x1="434.15" y1="254.00" x2="434.15" y2="257.00" stroke="#1a1a1a" stroke-width="0.6"/>
<line x1="439.95" y1="460.30" x2="439.95" y2="457.30" stroke="#1a1a1a" stroke-width="0.6"/>
<line x1="439.95" y1="254.00" x2="439.95" y2="257.00" stroke="#1a1a1a" stroke-width="0.6"/>
<line x1="451.57" y1="460.30" x2="451.57" y2="457.30" stroke="#1a1a1a" stroke-width="0.6"/>
<line x1="451.57" y1="254.00" x2="451.57" y2="257.00" stroke="#1a1a1a" stroke-width="0.6"/>
<line x1="457.37" y1="460.30" x2="457.37" y2="457.30" stroke="#1a1a1a" stroke-width="0.6"/>
<line x1="457.37" y1="254.00" x2="457.37" y2="257.00" stroke="#1a1a1a" stroke-width="0.6"/>
<line x1="463.18" y1="460.30" x2="463.18" y2="457.30" stroke="#1a1a1a" stroke-width="0.6"/>
<line x1="463.18" y1="254.00" x2="463.18" y2="257.00" stroke="#1a1a1a" stroke-width="0.6"/>
<line x1="468.98" y1="460.30" x2="468.98" y2="457.30" stroke="#1a1a1a" stroke-width="0.6"/>
<line x1="468.98" y1="254.00" x2="468.98" y2="257.00" stroke="#1a1a1a" stroke-width="0.6"/>
<line x1="480.60" y1="460.30" x2="480.60" y2="457.30" stroke="#1a1a1a" stroke-width="0.6"/>
<line x1="480.60" y1="254.00" x2="480.60" y2="257.00" stroke="#1a1a1a" stroke-width="0.6"/>
<line x1="486.40" y1="460.30" x2="486.40" y2="457.30" stroke="#1a1a1a" stroke-width="0.6"/>
<line x1="486.40" y1="254.00" x2="486.40" y2="257.00" stroke="#1a1a1a" stroke-width="0.6"/>
<line x1="492.21" y1="460.30" x2="492.21" y2="457.30" stroke="#1a1a1a" stroke-width="0.6"/>
<line x1="492.21" y1="254.00" x2="492.21" y2="257.00" stroke="#1a1a1a" stroke-width="0.6"/>
<line x1="498.01" y1="460.30" x2="498.01" y2="457.30" stroke="#1a1a1a" stroke-width="0.6"/>
<line x1="498.01" y1="254.00" x2="498.01" y2="257.00" stroke="#1a1a1a" stroke-width="0.6"/>
<line x1="509.63" y1="460.30" x2="509.63" y2="457.30" stroke="#1a1a1a" stroke-width="0.6"/>
<line x1="509.63" y1="254.00" x2="509.63" y2="257.00" stroke="#1a1a1a" stroke-width="0.6"/>
<line x1="515.43" y1="460.30" x2="515.43" y2="457.30" stroke="#1a1a1a" stroke-width="0.6"/>
<line x1="515.43" y1="254.00" x2="515.43" y2="257.00" stroke="#1a1a1a" stroke-width="0.6"/>
<line x1="521.24" y1="460.30" x2="521.24" y2="457.30" stroke="#1a1a1a" stroke-width="0.6"/>
<line x1="521.24" y1="254.00" x2="521.24" y2="257.00" stroke="#1a1a1a" stroke-width="0.6"/>
<line x1="527.04" y1="460.30" x2="527.04" y2="457.30" stroke="#1a1a1a" stroke-width="0.6"/>
<line x1="527.04" y1="254.00" x2="527.04" y2="257.00" stroke="#1a1a1a" stroke-width="0.6"/>
<line x1="538.66" y1="460.30" x2="538.66" y2="457.30" stroke="#1a1a1a" stroke-width="0.6"/>
<line x1="538.66" y1="254.00" x2="538.66" y2="257.00" stroke="#1a1a1a" stroke-width="0.6"/>
<line x1="544.46" y1="460.30" x2="544.46" y2="457.30" stroke="#1a1a1a" stroke-width="0.6"/>
<line x1="544.46" y1="254.00" x2="544.46" y2="257.00" stroke="#1a1a1a" stroke-width="0.6"/>
<line x1="550.27" y1="460.30" x2="550.27" y2="457.30" stroke="#1a1a1a" stroke-width="0.6"/>
<line x1="550.27" y1="254.00" x2="550.27" y2="257.00" stroke="#1a1a1a" stroke-width="0.6"/>
<line x1="556.07" y1="460.30" x2="556.07" y2="457.30" stroke="#1a1a1a" stroke-width="0.6"/>
<line x1="556.07" y1="254.00" x2="556.07" y2="257.00" stroke="#1a1a1a" stroke-width="0.6"/>
<line x1="567.69" y1="460.30" x2="567.69" y2="457.30" stroke="#1a1a1a" stroke-width="0.6"/>
<line x1="567.69" y1="254.00" x2="567.69" y2="257.00" stroke="#1a1a1a" stroke-width="0.6"/>
<line x1="573.49" y1="460.30" x2="573.49" y2="457.30" stroke="#1a1a1a" stroke-width="0.6"/>
<line x1="573.49" y1="254.00" x2="573.49" y2="257.00" stroke="#1a1a1a" stroke-width="0.6"/>
<line x1="579.30" y1="460.30" x2="579.30" y2="457.30" stroke="#1a1a1a" stroke-width="0.6"/>
<line x1="579.30" y1="254.00" x2="579.30" y2="257.00" stroke="#1a1a1a" stroke-width="0.6"/>
<line x1="585.10" y1="460.30" x2="585.10" y2="457.30" stroke="#1a1a1a" stroke-width="0.6"/>
<line x1="585.10" y1="254.00" x2="585.10" y2="257.00" stroke="#1a1a1a" stroke-width="0.6"/>
<line x1="596.72" y1="460.30" x2="596.72" y2="457.30" stroke="#1a1a1a" stroke-width="0.6"/>
<line x1="596.72" y1="254.00" x2="596.72" y2="257.00" stroke="#1a1a1a" stroke-width="0.6"/>
<line x1="602.52" y1="460.30" x2="602.52" y2="457.30" stroke="#1a1a1a" stroke-width="0.6"/>
<line x1="602.52" y1="254.00" x2="602.52" y2="257.00" stroke="#1a1a1a" stroke-width="0.6"/>
<line x1="608.33" y1="460.30" x2="608.33" y2="457.30" stroke="#1a1a1a" stroke-width="0.6"/>
<line x1="608.33" y1="254.00" x2="608.33" y2="257.00" stroke="#1a1a1a" stroke-width="0.6"/>
<line x1="614.13" y1="460.30" x2="614.13" y2="457.30" stroke="#1a1a1a" stroke-width="0.6"/>
<line x1="614.13" y1="254.00" x2="614.13" y2="257.00" stroke="#1a1a1a" stroke-width="0.6"/>
<line x1="625.75" y1="460.30" x2="625.75" y2="457.30" stroke="#1a1a1a" stroke-width="0.6"/>
<line x1="625.75" y1="254.00" x2="625.75" y2="257.00" stroke="#1a1a1a" stroke-width="0.6"/>
<line x1="631.55" y1="460.30" x2="631.55" y2="457.30" stroke="#1a1a1a" stroke-width="0.6"/>
<line x1="631.55" y1="254.00" x2="631.55" y2="257.00" stroke="#1a1a1a" stroke-width="0.6"/>
<line x1="637.36" y1="460.30" x2="637.36" y2="457.30" stroke="#1a1a1a" stroke-width="0.6"/>
<line x1="637.36" y1="254.00" x2="637.36" y2="257.00" stroke="#1a1a1a" stroke-width="0.6"/>
<line x1="643.16" y1="460.30" x2="643.16" y2="457.30" stroke="#1a1a1a" stroke-width="0.6"/>
<line x1="643.16" y1="254.00" x2="643.16" y2="257.00" stroke="#1a1a1a" stroke-width="0.6"/>
<line x1="654.78" y1="460.30" x2="654.78" y2="457.30" stroke="#1a1a1a" stroke-width="0.6"/>
<line x1="654.78" y1="254.00" x2="654.78" y2="257.00" stroke="#1a1a1a" stroke-width="0.6"/>
<line x1="660.58" y1="460.30" x2="660.58" y2="457.30" stroke="#1a1a1a" stroke-width="0.6"/>
<line x1="660.58" y1="254.00" x2="660.58" y2="257.00" stroke="#1a1a1a" stroke-width="0.6"/>
<line x1="666.39" y1="460.30" x2="666.39" y2="457.30" stroke="#1a1a1a" stroke-width="0.6"/>
<line x1="666.39" y1="254.00" x2="666.39" y2="257.00" stroke="#1a1a1a" stroke-width="0.6"/>
<line x1="672.19" y1="460.30" x2="672.19" y2="457.30" stroke="#1a1a1a" stroke-width="0.6"/>
<line x1="672.19" y1="254.00" x2="672.19" y2="257.00" stroke="#1a1a1a" stroke-width="0.6"/>
<line x1="387.70" y1="460.30" x2="393.70" y2="460.30" stroke="#1a1a1a" stroke-width="0.6"/>
<line x1="678.00" y1="460.30" x2="672.00" y2="460.30" stroke="#1a1a1a" stroke-width="0.6"/>
<line x1="387.70" y1="425.92" x2="393.70" y2="425.92" stroke="#1a1a1a" stroke-width="0.6"/>
<line x1="678.00" y1="425.92" x2="672.00" y2="425.92" stroke="#1a1a1a" stroke-width="0.6"/>
<line x1="387.70" y1="391.53" x2="393.70" y2="391.53" stroke="#1a1a1a" stroke-width="0.6"/>
<line x1="678.00" y1="391.53" x2="672.00" y2="391.53" stroke="#1a1a1a" stroke-width="0.6"/>
<line x1="387.70" y1="357.15" x2="393.70" y2="357.15" stroke="#1a1a1a" stroke-width="0.6"/>
<line x1="678.00" y1="357.15" x2="672.00" y2="357.15" stroke="#1a1a1a" stroke-width="0.6"/>
<line x1="387.70" y1="322.77" x2="393.70" y2="322.77" stroke="#1a1a1a" stroke-width="0.6"/>
<line x1="678.00" y1="322.77" x2="672.00" y2="322.77" stroke="#1a1a1a" stroke-width="0.6"/>
<line x1="387.70" y1="288.38" x2="393.70" y2="288.38" stroke="#1a1a1a" stroke-width="0.6"/>
<line x1="678.00" y1="288.38" x2="672.00" y2="288.38" stroke="#1a1a1a" stroke-width="0.6"/>
<line x1="387.70" y1="254.00" x2="393.70" y2="254.00" stroke="#1a1a1a" stroke-width="0.6"/>
<line x1="678.00" y1="254.00" x2="672.00" y2="254.00" stroke="#1a1a1a" stroke-width="0.6"/>
<line x1="387.70" y1="443.11" x2="390.70" y2="443.11" stroke="#1a1a1a" stroke-width="0.6"/>
<line x1="678.00" y1="443.11" x2="675.00" y2="443.11" stroke="#1a1a1a" stroke-width="0.6"/>
<line x1="387.70" y1="408.73" x2="390.70" y2="408.73" stroke="#1a1a1a" stroke-width="0.6"/>
<line x1="678.00" y1="408.73" x2="675.00" y2="408.73" stroke="#1a1a1a" stroke-width="0.6"/>
<line x1="387.70" y1="374.34" x2="390.70" y2="374.34" stroke="#1a1a1a" stroke-width="0.6"/>
<line x1="678.00" y1="374.34" x2="675.00" y2="374.34" stroke="#1a1a1a" stroke-width="0.6"/>
<line x1="387.70" y1="339.96" x2="390.70" y2="339.96" stroke="#1a1a1a" stroke-width="0.6"/>
<line x1="678.00" y1="339.96" x2="675.00" y2="339.96" stroke="#1a1a1a" stroke-width="0.6"/>
<line x1="387.70" y1="305.57" x2="390.70" y2="305.57" stroke="#1a1a1a" stroke-width="0.6"/>
<line x1="678.00" y1="305.57" x2="675.00" y2="305.57" stroke="#1a1a1a" stroke-width="0.6"/>
<line x1="387.70" y1="271.19" x2="390.70" y2="271.19" stroke="#1a1a1a" stroke-width="0.6"/>
<line x1="678.00" y1="271.19" x2="675.00" y2="271.19" stroke="#1a1a1a" stroke-width="0.6"/>
<rect x="387.7" y="254.0" width="290.3" height="206.3" fill="none" stroke="#1a1a1a" stroke-width="1.0"/>
<text class="sa" transform="translate(387.90,472.40) scale(0.97,1)" font-size="12.8" text-anchor="middle" fill="#000">0</text>
<text class="sa" transform="translate(416.93,472.40) scale(0.97,1)" font-size="12.8" text-anchor="middle" fill="#000">1</text>
<text class="sa" transform="translate(445.96,472.40) scale(0.97,1)" font-size="12.8" text-anchor="middle" fill="#000">2</text>
<text class="sa" transform="translate(474.99,472.40) scale(0.97,1)" font-size="12.8" text-anchor="middle" fill="#000">3</text>
<text class="sa" transform="translate(504.02,472.40) scale(0.97,1)" font-size="12.8" text-anchor="middle" fill="#000">4</text>
<text class="sa" transform="translate(533.05,472.40) scale(0.97,1)" font-size="12.8" text-anchor="middle" fill="#000">5</text>
<text class="sa" transform="translate(562.08,472.40) scale(0.97,1)" font-size="12.8" text-anchor="middle" fill="#000">6</text>
<text class="sa" transform="translate(591.11,472.40) scale(0.97,1)" font-size="12.8" text-anchor="middle" fill="#000">7</text>
<text class="sa" transform="translate(620.14,472.40) scale(0.97,1)" font-size="12.8" text-anchor="middle" fill="#000">8</text>
<text class="sa" transform="translate(649.17,472.40) scale(0.97,1)" font-size="12.8" text-anchor="middle" fill="#000">9</text>
<text class="sa" transform="translate(678.20,472.40) scale(0.97,1)" font-size="12.8" text-anchor="middle" fill="#000">10</text>
<text class="sa" transform="translate(385.30,464.61) scale(0.97,1)" font-size="12.8" text-anchor="end" fill="#000">0</text>
<text class="sa" transform="translate(385.30,430.22) scale(0.97,1)" font-size="12.8" text-anchor="end" fill="#000">200</text>
<text class="sa" transform="translate(385.30,395.84) scale(0.97,1)" font-size="12.8" text-anchor="end" fill="#000">400</text>
<text class="sa" transform="translate(385.30,361.46) scale(0.97,1)" font-size="12.8" text-anchor="end" fill="#000">600</text>
<text class="sa" transform="translate(385.30,327.07) scale(0.97,1)" font-size="12.8" text-anchor="end" fill="#000">800</text>
<text class="sa" transform="translate(385.30,292.69) scale(0.97,1)" font-size="12.8" text-anchor="end" fill="#000">1000</text>
<text class="sa" transform="translate(385.30,258.31) scale(0.97,1)" font-size="12.8" text-anchor="end" fill="#000">1200</text>
<text class="sa" transform="translate(532.85,486.00)" font-size="14.4" text-anchor="middle" fill="#000">Energy (eV)</text>
<text class="sa" transform="translate(351.60,357.15) rotate(-90)" font-size="14.4" text-anchor="middle" fill="#000">Thermal conductivity (W/m/K)</text>
<text class="se" transform="translate(407.60,276.10)" font-size="16.1" text-anchor="start" fill="#000">(b2)</text>
<rect x="492.0" y="262.6" width="179.29999999999995" height="53.799999999999955" fill="#ffffff" stroke="#1a1a1a" stroke-width="1.1"/>
<line x1="496.00" y1="270.00" x2="507.00" y2="270.00" stroke="#ffa500" stroke-width="1.3"/>
<text class="sa" transform="translate(513.20,273.40)" font-size="10.3" text-anchor="start" fill="#000">Be 2.05 g/cc 512 atoms 3 eV</text>
<line x1="496.00" y1="283.00" x2="507.00" y2="283.00" stroke="#ff0000" stroke-width="1.3"/>
<text class="sa" transform="translate(513.20,286.40)" font-size="10.3" text-anchor="start" fill="#000">Be 2.05 g/cc 512 atoms 5 eV</text>
<line x1="496.00" y1="296.00" x2="507.00" y2="296.00" stroke="#a020f0" stroke-width="1.3"/>
<text class="sa" transform="translate(513.20,299.40)" font-size="10.3" text-anchor="start" fill="#000">CH1.36 0.95 g/cc 472 atoms 5 eV</text>
<line x1="496.00" y1="309.00" x2="507.00" y2="309.00" stroke="#0000ff" stroke-width="1.3"/>
<text class="sa" transform="translate(513.20,312.40)" font-size="10.3" text-anchor="start" fill="#000">CH1.36 0.95 g/cc 472 atoms 8 eV</text>
</g>
</svg>
</body></html>
